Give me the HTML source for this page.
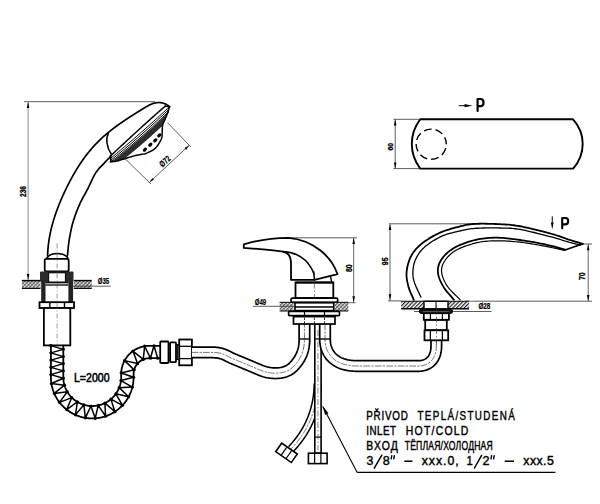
<!DOCTYPE html><html><head><meta charset="utf-8"><style>html,body{margin:0;padding:0;background:#fff;width:600px;height:504px;overflow:hidden}svg{display:block}</style></head><body><svg width="600" height="504" viewBox="0 0 600 504">
<defs><pattern id="h" patternUnits="userSpaceOnUse" width="2.6" height="2.6" patternTransform="rotate(45)"><rect width="2.6" height="2.6" fill="#fff"/><line x1="0.6" y1="0" x2="0.6" y2="2.6" stroke="#333" stroke-width="0.9"/><line x1="0" y1="1.9" x2="2.6" y2="1.9" stroke="#555" stroke-width="0.7"/></pattern><pattern id="h2" patternUnits="userSpaceOnUse" width="2.7" height="2.7" patternTransform="rotate(45)"><rect width="2.7" height="2.7" fill="#fff"/><line x1="0.6" y1="0" x2="0.6" y2="2.7" stroke="#222" stroke-width="1.2"/></pattern></defs>
<rect width="600" height="504" fill="#fff"/>
<line x1="24" y1="101.7" x2="155" y2="101.7" stroke="#333" stroke-width="0.8" stroke-linecap="butt"/>
<line x1="28.1" y1="101.7" x2="28.1" y2="281" stroke="#888" stroke-width="1.0" stroke-linecap="butt"/>
<path d="M28.1,101.9 L29.4,107.9 L26.8,107.9Z" fill="#000"/>
<path d="M28.1,280 L26.8,274 L29.4,274Z" fill="#000"/>
<text transform="translate(26,191.5) rotate(-90)" font-family="Liberation Sans" font-size="8.2" font-weight="bold" text-anchor="middle" fill="#000" stroke="#000" stroke-width="0.3" textLength="11" lengthAdjust="spacingAndGlyphs">236</text>
<path d="M47.62,255.98 L47.64,255.27 L47.66,254.56 L47.68,253.85 L47.71,253.14 L47.75,252.43 L47.78,251.72 L47.83,251.01 L47.87,250.3 L47.92,249.59 L47.98,248.89 L48.04,248.18 L48.1,247.48 L48.17,246.77 L48.24,246.07 L48.32,245.36 L48.4,244.66 L48.48,243.95 L48.57,243.25 L48.66,242.55 L48.76,241.85 L48.86,241.14 L48.96,240.44 L49.07,239.74 L49.18,239.04 L49.29,238.34 L49.41,237.64 L49.54,236.95 L49.66,236.25 L49.79,235.55 L49.93,234.85 L50.06,234.16 L50.2,233.46 L50.35,232.77 L50.5,232.07 L50.65,231.38 L50.8,230.69 L50.96,230 L51.12,229.3 L51.29,228.61 L51.46,227.92 L51.63,227.23 L51.8,226.54 L51.98,225.85 L52.16,225.17 L52.35,224.48 L52.53,223.79 L52.73,223.11 L52.92,222.42 L53.12,221.74 L53.32,221.05 L53.52,220.37 L53.73,219.69 L53.93,219.01 L54.15,218.33 L54.36,217.65 L54.58,216.97 L54.8,216.29 L55.02,215.61 L55.25,214.93 L55.48,214.26 L55.71,213.58 L55.94,212.91 L56.18,212.23 L56.42,211.56 L56.66,210.89 L56.9,210.21 L57.15,209.54 L57.4,208.87 L57.65,208.2 L57.91,207.53 L58.16,206.87 L58.42,206.2 L58.68,205.53 L58.95,204.87 L59.21,204.2 L59.48,203.54 L59.75,202.88 L60.02,202.22 L60.3,201.56 L60.57,200.9 L60.85,200.24 L61.13,199.58 L61.42,198.92 L61.7,198.26 L61.99,197.61 L62.28,196.95 L62.57,196.3 L62.86,195.65 L63.16,195 L63.45,194.35 L63.75,193.7 L64.05,193.05 L64.35,192.4 L64.65,191.75 L64.96,191.11 L65.27,190.46 L65.57,189.82 L65.88,189.17 L66.19,188.53 L66.51,187.89 L66.82,187.25 L67.14,186.61 L67.45,185.97 L67.77,185.34 L68.09,184.7 L68.42,184.07 L68.74,183.43 L69.07,182.8 L69.39,182.17 L69.72,181.54 L70.05,180.91 L70.39,180.29 L70.72,179.66 L71.06,179.03 L71.39,178.41 L71.73,177.79 L72.08,177.17 L72.42,176.55 L72.77,175.93 L73.11,175.31 L73.46,174.7 L73.81,174.08 L74.17,173.47 L74.52,172.86 L74.88,172.25 L75.24,171.64 L75.6,171.04 L75.97,170.43 L76.33,169.83 L76.7,169.23 L77.07,168.63 L77.44,168.03 L77.82,167.43 L78.19,166.83 L78.57,166.24 L78.95,165.65 L79.34,165.06 L79.72,164.47 L80.11,163.88 L80.5,163.3 L80.89,162.71 L81.29,162.13 L81.68,161.55 L82.08,160.97 L82.48,160.4 L82.89,159.82 L83.3,159.25 L83.7,158.68 L84.12,158.11 L84.53,157.55 L84.95,156.98 L85.37,156.42 L85.79,155.86 L86.21,155.3 L86.64,154.74 L87.07,154.19 L87.5,153.64 L87.94,153.08 L88.37,152.54 L88.81,151.99 L89.26,151.45 L89.7,150.9 L90.15,150.36 L90.6,149.83 L91.05,149.29 L91.51,148.76 L91.97,148.23 L92.43,147.7 L92.9,147.17 L93.37,146.65 L93.84,146.13 L94.31,145.61 L94.79,145.09 L95.27,144.58 L95.75,144.06 L96.24,143.56 L96.72,143.05 L97.22,142.54 L97.71,142.04 L98.21,141.54 L98.71,141.04 L99.21,140.55 L99.72,140.06 L100.23,139.57 L100.74,139.08 L101.26,138.6 L101.78,138.11 L102.3,137.63 L102.83,137.16 L103.36,136.68 L103.89,136.21 L104.42,135.74 L104.96,135.27 L105.5,134.81 L106.04,134.34 L106.58,133.88 L107.13,133.42 L107.68,132.97 L108.23,132.51 L108.78,132.06 L109.34,131.61 L109.9,131.16 L110.46,130.72 L111.02,130.27 L111.59,129.83 L112.15,129.39 L112.72,128.95 L113.29,128.52 L113.87,128.08 L114.44,127.65 L115.02,127.22 L115.6,126.79 L116.18,126.36 L116.76,125.94 L117.34,125.51 L117.93,125.09 L118.51,124.67 L119.1,124.25 L119.69,123.84 L120.28,123.42 L120.87,123.01 L121.47,122.6 L122.06,122.19 L122.66,121.78 L123.25,121.37 L123.85,120.96 L124.45,120.56 L125.05,120.16 L125.65,119.75 L126.25,119.35 L126.86,118.95 L127.46,118.55 L128.06,118.16 L128.67,117.76 L129.27,117.37 L129.88,116.97 L130.49,116.58 L131.09,116.19 L131.7,115.8 L132.31,115.41 L132.92,115.02 L133.53,114.64 L134.14,114.25 L134.75,113.87 L135.35,113.48 L135.96,113.1 L136.57,112.71 L137.18,112.33 L137.79,111.95 L138.4,111.57 L139.01,111.19 L139.62,110.81 L140.23,110.44 L140.84,110.06 L141.44,109.68 L142.05,109.31 L142.66,108.93 L143.27,108.56 L143.87,108.18 L144.48,107.81 L145.09,107.45 L145.69,107.09 L146.3,106.73 L146.91,106.39 L147.52,106.05 L148.12,105.72 L148.73,105.4 L149.35,105.09 L149.96,104.8 L150.57,104.51 L151.19,104.24 L151.8,103.99 L152.42,103.75 L153.05,103.53 L153.67,103.33 L154.29,103.15 L154.92,102.99 L155.55,102.85 L156.19,102.73 L156.82,102.64 L157.46,102.57 L158.11,102.53 L158.75,102.51 L159.4,102.52 L160.06,102.56 L160.71,102.63 L161.38,102.73 L162.04,102.86 L162.71,103.02 L163.39,103.22 L164.07,103.45 L164.75,103.72 L165.44,104.03 L166.13,104.37 L166.83,104.75 L167.54,105.17 L168.25,105.64 L168.96,106.14 L169.69,106.69" fill="none" stroke="#000" stroke-width="1.7" stroke-linecap="round" stroke-linejoin="round"/>
<path d="M67.4,256 L67.56,254.55 L67.7,253.12 L67.84,251.69 L67.97,250.26 L68.11,248.83 L68.25,247.39 L68.4,245.95 L68.56,244.49 L68.75,243.02 L68.96,241.52 L69.2,240 L69.46,238.45 L69.73,236.87 L70.02,235.28 L70.32,233.66 L70.63,232.04 L70.97,230.4 L71.33,228.76 L71.71,227.11 L72.11,225.47 L72.54,223.83 L73,222.2 L73.49,220.56 L74.01,218.91 L74.57,217.24 L75.14,215.57 L75.74,213.9 L76.36,212.23 L76.99,210.59 L77.64,208.96 L78.29,207.37 L78.94,205.81 L79.6,204.3 L80.26,202.84 L80.94,201.44 L81.63,200.09 L82.33,198.77 L83.04,197.46 L83.75,196.17 L84.48,194.88 L85.2,193.58 L85.94,192.26 L86.67,190.9 L87.4,189.5 L88.14,188.03 L88.88,186.5 L89.63,184.91 L90.38,183.3 L91.14,181.68 L91.9,180.07 L92.66,178.5 L93.42,176.97 L94.18,175.52 L94.94,174.15 L95.7,172.9 L96.46,171.75 L97.23,170.69 L98.01,169.7 L98.79,168.78 L99.56,167.91 L100.34,167.08 L101.1,166.29 L101.85,165.53 L102.59,164.78 L103.31,164.04 L104,163.3 L104.67,162.58 L105.32,161.89 L105.94,161.24 L106.55,160.62 L107.15,160.02 L107.74,159.43 L108.33,158.85 L108.92,158.28 L109.5,157.7 L110.1,157.11 L110.7,156.5" fill="none" stroke="#000" stroke-width="1.7" stroke-linecap="round" stroke-linejoin="round"/>
<path d="M108.3,133.6 C105.8,138 106.2,147 111.4,154.2" fill="none" stroke="#000" stroke-width="1.5" stroke-linecap="round" stroke-linejoin="round"/>
<clipPath id="fc"><path d="M167.9,112.3 L167.48,113.34 L167.05,114.41 L166.63,115.48 L166.2,116.54 L165.78,117.57 L165.38,118.57 L165,119.5 L164.62,120.36 L164.25,121.14 L163.88,121.88 L163.53,122.6 L163.21,123.32 L162.93,124.08 L162.7,124.9 L162.53,125.78 L162.43,126.71 L162.36,127.66 L162.32,128.63 L162.29,129.6 L162.26,130.56 L162.2,131.5 L162.15,132.42 L162.13,133.32 L162.12,134.23 L162.1,135.12 L162.03,136.02 L161.91,136.91 L161.7,137.8 L161.4,138.7 L161.02,139.62 L160.59,140.54 L160.11,141.45 L159.61,142.34 L159.1,143.19 L158.6,144 L158.1,144.77 L157.59,145.5 L157.07,146.21 L156.54,146.89 L155.98,147.53 L155.4,148.14 L154.8,148.7 L154.17,149.22 L153.51,149.68 L152.83,150.11 L152.13,150.51 L151.42,150.88 L150.71,151.24 L150,151.6 L149.31,151.95 L148.65,152.28 L147.99,152.59 L147.3,152.88 L146.58,153.17 L145.78,153.44 L144.9,153.7 L143.93,153.93 L142.88,154.13 L141.77,154.32 L140.61,154.5 L139.41,154.69 L138.17,154.92 L136.9,155.2 L135.59,155.53 L134.21,155.9 L132.8,156.3 L131.35,156.72 L129.89,157.15 L128.44,157.58 L127,158 L125.55,158.44 L124.05,158.91 L122.55,159.39 L121.06,159.86 L119.62,160.3 L118.26,160.69 L117,161 L115.87,161.23 L114.85,161.39 L113.9,161.5 L113,161.57 L112.12,161.64 L111.23,161.7 L110.3,161.8 L108.35,162.78 L170.65,108.02Z"/></clipPath>
<path d="M167.9,112.3 L167.48,113.34 L167.05,114.41 L166.63,115.48 L166.2,116.54 L165.78,117.57 L165.38,118.57 L165,119.5 L164.62,120.36 L164.25,121.14 L163.88,121.88 L163.53,122.6 L163.21,123.32 L162.93,124.08 L162.7,124.9 L162.53,125.78 L162.43,126.71 L162.36,127.66 L162.32,128.63 L162.29,129.6 L162.26,130.56 L162.2,131.5 L162.15,132.42 L162.13,133.32 L162.12,134.23 L162.1,135.12 L162.03,136.02 L161.91,136.91 L161.7,137.8 L161.4,138.7 L161.02,139.62 L160.59,140.54 L160.11,141.45 L159.61,142.34 L159.1,143.19 L158.6,144 L158.1,144.77 L157.59,145.5 L157.07,146.21 L156.54,146.89 L155.98,147.53 L155.4,148.14 L154.8,148.7 L154.17,149.22 L153.51,149.68 L152.83,150.11 L152.13,150.51 L151.42,150.88 L150.71,151.24 L150,151.6 L149.31,151.95 L148.65,152.28 L147.99,152.59 L147.3,152.88 L146.58,153.17 L145.78,153.44 L144.9,153.7 L143.93,153.93 L142.88,154.13 L141.77,154.32 L140.61,154.5 L139.41,154.69 L138.17,154.92 L136.9,155.2 L135.59,155.53 L134.21,155.9 L132.8,156.3 L131.35,156.72 L129.89,157.15 L128.44,157.58 L127,158 L125.55,158.44 L124.05,158.91 L122.55,159.39 L121.06,159.86 L119.62,160.3 L118.26,160.69 L117,161 L115.87,161.23 L114.85,161.39 L113.9,161.5 L113,161.57 L112.12,161.64 L111.23,161.7 L110.3,161.8 L108.35,162.78 L170.65,108.02Z" fill="#fff" stroke="#000" stroke-width="0" stroke-linecap="round" stroke-linejoin="round"/>
<g clip-path="url(#fc)">
<path d="M111.41,162.1 L112.2,161.48 L112.99,160.86 L113.79,160.25 L114.58,159.63 L115.37,159.01 L116.16,158.39 L116.95,157.76 L117.74,157.14 L118.52,156.52 L119.31,155.89 L120.1,155.26 L120.88,154.63 L121.66,154 L122.45,153.37 L123.23,152.74 L124.01,152.11 L124.79,151.47 L125.56,150.84 L126.34,150.2 L127.12,149.56 L127.89,148.92 L128.67,148.28 L129.44,147.64 L130.21,146.99 L130.98,146.35 L131.75,145.7 L132.52,145.06 L133.29,144.41 L134.06,143.76 L134.82,143.11 L135.59,142.46 L136.35,141.8 L137.12,141.15 L137.88,140.5 L138.64,139.84 L139.4,139.18 L140.16,138.52 L140.92,137.86 L141.67,137.2 L142.43,136.54 L143.19,135.88 L143.94,135.21 L144.69,134.55 L145.44,133.88 L146.19,133.21 L146.94,132.54 L147.69,131.87 L148.44,131.2 L149.19,130.53 L149.93,129.86 L150.68,129.18 L151.42,128.5 L152.17,127.83 L152.91,127.15 L153.65,126.47 L154.39,125.79 L155.13,125.11 L155.86,124.43 L156.6,123.74 L157.34,123.06 L158.07,122.37 L158.81,121.69 L159.54,121 L160.27,120.31 L161,119.62 L161.73,118.93 L162.46,118.24 L163.18,117.54 L163.91,116.85 L164.64,116.15 L165.36,115.45 L166.08,114.76 L166.81,114.06 L167.53,113.36 L168.25,112.66 L172.08,116.61 L171.36,117.3 L170.63,118.01 L169.9,118.71 L169.18,119.42 L168.45,120.12 L167.71,120.82 L166.98,121.52 L166.25,122.22 L165.51,122.92 L164.78,123.61 L164.04,124.31 L163.31,125 L162.57,125.7 L161.83,126.39 L161.09,127.08 L160.34,127.77 L159.6,128.46 L158.86,129.15 L158.11,129.84 L157.37,130.52 L156.62,131.21 L155.87,131.89 L155.13,132.57 L154.37,133.26 L153.62,133.93 L152.87,134.61 L152.12,135.29 L151.37,135.97 L150.61,136.65 L149.85,137.32 L149.1,137.99 L148.34,138.67 L147.58,139.33 L146.82,140.01 L146.06,140.68 L145.3,141.34 L144.53,142.01 L143.77,142.67 L143,143.34 L142.23,144 L141.47,144.66 L140.7,145.33 L139.93,145.98 L139.16,146.64 L138.39,147.3 L137.62,147.95 L136.84,148.61 L136.07,149.26 L135.29,149.92 L134.51,150.57 L133.74,151.22 L132.96,151.87 L132.18,152.51 L131.4,153.16 L130.61,153.81 L129.83,154.45 L129.05,155.09 L128.26,155.73 L127.48,156.37 L126.69,157.01 L125.9,157.65 L125.11,158.29 L124.32,158.92 L123.53,159.55 L122.74,160.19 L121.95,160.82 L121.15,161.45 L120.36,162.08 L119.56,162.71 L118.77,163.34 L117.97,163.96 L117.17,164.58 L116.37,165.21 L115.57,165.83 L114.78,166.44Z" fill="#2e2e2e" stroke="#000" stroke-width="0" stroke-linecap="round" stroke-linejoin="round"/>
</g>
<path d="M167.9,112.3 L167.48,113.34 L167.05,114.41 L166.63,115.48 L166.2,116.54 L165.78,117.57 L165.38,118.57 L165,119.5 L164.62,120.36 L164.25,121.14 L163.88,121.88 L163.53,122.6 L163.21,123.32 L162.93,124.08 L162.7,124.9 L162.53,125.78 L162.43,126.71 L162.36,127.66 L162.32,128.63 L162.29,129.6 L162.26,130.56 L162.2,131.5 L162.15,132.42 L162.13,133.32 L162.12,134.23 L162.1,135.12 L162.03,136.02 L161.91,136.91 L161.7,137.8 L161.4,138.7 L161.02,139.62 L160.59,140.54 L160.11,141.45 L159.61,142.34 L159.1,143.19 L158.6,144 L158.1,144.77 L157.59,145.5 L157.07,146.21 L156.54,146.89 L155.98,147.53 L155.4,148.14 L154.8,148.7 L154.17,149.22 L153.51,149.68 L152.83,150.11 L152.13,150.51 L151.42,150.88 L150.71,151.24 L150,151.6 L149.31,151.95 L148.65,152.28 L147.99,152.59 L147.3,152.88 L146.58,153.17 L145.78,153.44 L144.9,153.7 L143.93,153.93 L142.88,154.13 L141.77,154.32 L140.61,154.5 L139.41,154.69 L138.17,154.92 L136.9,155.2 L135.59,155.53 L134.21,155.9 L132.8,156.3 L131.35,156.72 L129.89,157.15 L128.44,157.58 L127,158 L125.55,158.44 L124.05,158.91 L122.55,159.39 L121.06,159.86 L119.62,160.3 L118.26,160.69 L117,161 L115.87,161.23 L114.85,161.39 L113.9,161.5 L113,161.57 L112.12,161.64 L111.23,161.7 L110.3,161.8" fill="none" stroke="#000" stroke-width="1.5" stroke-linecap="round" stroke-linejoin="round"/>
<ellipse cx="144.9" cy="149.7" rx="2.4" ry="1.7" transform="rotate(-42 144.9 149.7)" fill="#000"/>
<ellipse cx="150.3" cy="144.7" rx="2.4" ry="1.7" transform="rotate(-42 150.3 144.7)" fill="#000"/>
<ellipse cx="155.3" cy="140.3" rx="2.4" ry="1.7" transform="rotate(-42 155.3 140.3)" fill="#000"/>
<ellipse cx="159.3" cy="135.3" rx="2.4" ry="1.7" transform="rotate(-42 159.3 135.3)" fill="#000"/>
<path d="M110.4,156.1 L112.58,154.04 L114.74,152.01 L116.88,150 L119,148.01 L121.09,146.05 L123.17,144.11 L125.23,142.2 L127.26,140.31 L129.28,138.44 L131.27,136.6 L133.25,134.78 L135.2,132.98 L137.14,131.21 L139.05,129.47 L140.94,127.74 L142.82,126.04 L144.67,124.36 L146.5,122.71 L148.31,121.08 L150.1,119.48 L151.87,117.9 L153.62,116.34 L155.35,114.8 L157.06,113.29 L158.75,111.81 L160.42,110.34 L162.07,108.91 L163.69,107.49 L165.3,106.1" fill="none" stroke="#000" stroke-width="1.5" stroke-linecap="round" stroke-linejoin="round"/>
<path d="M110.7,158.3 L112.72,156.64 L114.74,154.97 L116.75,153.29 L118.77,151.6 L120.79,149.91 L122.81,148.2 L124.83,146.49 L126.85,144.77 L128.87,143.04 L130.9,141.31 L132.92,139.57 L134.94,137.81 L136.96,136.05 L138.99,134.29 L141.01,132.51 L143.04,130.73 L145.06,128.94 L147.09,127.13 L149.11,125.33 L151.14,123.51 L153.17,121.69 L155.19,119.85 L157.22,118.01 L159.25,116.16 L161.28,114.31 L163.31,112.44 L165.34,110.57 L167.37,108.69 L169.4,106.8" fill="none" stroke="#000" stroke-width="1.0" stroke-linecap="round" stroke-linejoin="round"/>
<path d="M110.9,160.2 L112.92,158.58 L114.94,156.94 L116.96,155.3 L118.98,153.65 L120.99,151.99 L123,150.32 L125.01,148.65 L127.02,146.96 L129.02,145.27 L131.02,143.57 L133.02,141.85 L135.02,140.14 L137.01,138.41 L139,136.67 L140.99,134.93 L142.98,133.17 L144.97,131.41 L146.95,129.64 L148.93,127.86 L150.91,126.07 L152.88,124.28 L154.86,122.47 L156.83,120.66 L158.79,118.84 L160.76,117.01 L162.72,115.17 L164.68,113.32 L166.64,111.46 L168.6,109.6" fill="none" stroke="#000" stroke-width="1.0" stroke-linecap="round" stroke-linejoin="round"/>
<path d="M111.1,161.7 L113.13,160.13 L115.15,158.55 L117.16,156.96 L119.17,155.36 L121.18,153.75 L123.18,152.14 L125.18,150.51 L127.17,148.87 L129.16,147.23 L131.14,145.57 L133.12,143.9 L135.09,142.23 L137.06,140.54 L139.02,138.85 L140.98,137.15 L142.93,135.43 L144.88,133.71 L146.83,131.98 L148.77,130.24 L150.7,128.49 L152.63,126.73 L154.56,124.96 L156.48,123.18 L158.39,121.39 L160.3,119.59 L162.21,117.78 L164.11,115.96 L166.01,114.14 L167.9,112.3" fill="none" stroke="#000" stroke-width="1.0" stroke-linecap="round" stroke-linejoin="round"/>
<path d="M110.4,156.1 L111.1,161.7" fill="none" stroke="#000" stroke-width="1.6" stroke-linecap="round" stroke-linejoin="round"/>
<path d="M165.3,106.1 L169.4,106.8" fill="none" stroke="#000" stroke-width="1.4" stroke-linecap="round" stroke-linejoin="round"/>
<path d="M169.4,106.8 L167.9,112.3" fill="none" stroke="#000" stroke-width="1.6" stroke-linecap="round" stroke-linejoin="round"/>
<line x1="167.5" y1="122.7" x2="191" y2="147" stroke="#333" stroke-width="0.8" stroke-linecap="butt"/>
<line x1="123.8" y1="157.5" x2="151" y2="184" stroke="#333" stroke-width="0.8" stroke-linecap="butt"/>
<line x1="189" y1="145.5" x2="149.5" y2="182.3" stroke="#333" stroke-width="0.8" stroke-linecap="butt"/>
<path d="M189,145.5 L186.16,149.79 L184.52,148.03Z" fill="#000"/>
<path d="M149.5,182.3 L152.34,178.01 L153.98,179.77Z" fill="#000"/>
<text transform="translate(167,163.5) rotate(-43)" font-family="Liberation Sans" font-size="8.6" font-weight="bold" text-anchor="middle" fill="#000" stroke="#000" stroke-width="0.2" textLength="12" lengthAdjust="spacingAndGlyphs">Ø72</text>
<path d="M46.9,258 C49,255 53,253.5 57.3,253.5 C61.5,253.5 65.5,255 67.9,258" fill="none" stroke="#000" stroke-width="1.6" stroke-linecap="round" stroke-linejoin="round"/>
<rect x="44.7" y="258.8" width="24" height="12.6" rx="1.6" fill="#fff" stroke="#000" stroke-width="1.8"/>
<rect x="40" y="271.4" width="33.5" height="10.6" rx="1.2" fill="#2a2a2a"/>
<rect x="48.7" y="272.8" width="16.7" height="9.2" fill="#fff" stroke="#000" stroke-width="1.0"/>
<rect x="21.9" y="280.6" width="18.6" height="7.8" fill="url(#h)" stroke="#000" stroke-width="0"/>
<line x1="21.9" y1="280.6" x2="40.5" y2="280.6" stroke="#000" stroke-width="1.5" stroke-linecap="butt"/>
<line x1="21.9" y1="288.4" x2="40.5" y2="288.4" stroke="#000" stroke-width="1.1" stroke-linecap="butt"/>
<rect x="73.8" y="280.6" width="17.9" height="7.8" fill="url(#h)" stroke="#000" stroke-width="0"/>
<line x1="73.8" y1="280.6" x2="91.7" y2="280.6" stroke="#000" stroke-width="1.5" stroke-linecap="butt"/>
<line x1="73.8" y1="288.4" x2="91.7" y2="288.4" stroke="#000" stroke-width="1.1" stroke-linecap="butt"/>
<rect x="41.2" y="282" width="31.9" height="20" fill="#fff" stroke="#000" stroke-width="0"/>
<rect x="41.2" y="282" width="4.3" height="20" fill="#222" stroke="#000" stroke-width="0"/>
<rect x="68.4" y="282" width="4.7" height="20" fill="#222" stroke="#000" stroke-width="0"/>
<line x1="45.5" y1="282.7" x2="68.4" y2="282.7" stroke="#000" stroke-width="1.3" stroke-linecap="butt"/>
<line x1="45.5" y1="285" x2="68.4" y2="285" stroke="#000" stroke-width="1.3" stroke-linecap="butt"/>
<rect x="39.5" y="302.2" width="34.5" height="5.8" fill="#fff" stroke="#000" stroke-width="1.8"/>
<line x1="49.8" y1="302.2" x2="49.8" y2="308" stroke="#000" stroke-width="1.4" stroke-linecap="butt"/>
<line x1="64.5" y1="302.2" x2="64.5" y2="308" stroke="#000" stroke-width="1.4" stroke-linecap="butt"/>
<rect x="43.9" y="308" width="26.4" height="37.4" fill="#fff" stroke="#000" stroke-width="1.8"/>
<line x1="72" y1="286.2" x2="110.7" y2="286.2" stroke="#333" stroke-width="0.8" stroke-linecap="butt"/>
<text transform="translate(103.5,284.3)" font-family="Liberation Sans" font-size="8.6" font-weight="bold" text-anchor="middle" fill="#000" stroke="#000" stroke-width="0.2" textLength="11.5" lengthAdjust="spacingAndGlyphs">Ø35</text>
<line x1="57.1" y1="243.5" x2="57.1" y2="345" stroke="#555" stroke-width="0.6" stroke-linecap="butt" stroke-dasharray="5,2,1,2"/>
<path d="M50.9,345.6 L50.9,345.85 L50.9,346.1 L50.9,346.35 L50.9,346.6 L50.9,346.85 L50.9,347.1 L50.9,347.35 L50.9,347.6 L50.9,347.85 L50.9,348.1 L50.9,348.35 L50.9,348.6 L50.9,348.85 L50.9,349.1 L50.9,349.35 L50.9,349.6 L50.9,349.85 L50.9,350.1 L50.9,350.35 L50.9,350.6 L50.9,350.85 L50.9,351.1 L50.9,351.35 L50.9,351.6 L50.9,351.85 L50.9,352.1 L50.9,352.35 L50.9,352.6 L50.9,352.85 L50.9,353.1 L50.9,353.35 L50.9,353.61 L50.9,353.86 L50.9,354.11 L50.9,354.36 L50.9,354.61 L50.9,354.86 L50.9,355.11 L50.9,355.36 L50.9,355.61 L50.9,355.86 L50.9,356.11 L50.9,356.36 L50.9,356.61 L50.9,356.86 L50.9,357.11 L50.9,357.36 L50.9,357.61 L50.9,357.86 L50.9,358.11 L50.9,358.36 L50.9,358.61 L50.9,358.86 L50.9,359.11 L50.9,359.36 L50.9,359.61 L50.9,359.86 L50.9,360.11 L50.9,360.36 L50.9,360.61 L50.9,360.86 L50.9,361.11 L50.9,361.36 L50.9,361.61 L50.9,361.86 L50.9,362.11 L50.9,362.36 L50.9,362.61 L50.9,362.86 L50.9,363.11 L50.9,363.36 L50.9,363.61 L50.9,363.86 L50.9,364.11 L50.9,364.36 L50.9,364.61 L50.9,364.86 L50.9,365.11 L50.9,365.36 L50.9,365.61 L50.9,365.86 L50.9,366.11 L50.9,366.36 L50.9,366.61 L50.9,366.86 L50.9,367.11 L50.9,367.36 L50.9,367.61 L50.9,367.86 L50.9,368.11 L50.9,368.36 L50.9,368.61 L50.9,368.86 L50.9,369.11 L50.9,369.36 L50.9,369.62 L50.9,369.87 L50.9,370.12 L50.9,370.37 L50.9,370.62 L50.9,370.87 L50.9,371.12 L50.9,371.37 L50.9,371.62 L50.9,371.87 L50.9,372.12 L50.9,372.37 L50.9,372.62 L50.9,372.87 L50.9,373.12 L50.9,373.37 L50.9,373.62 L50.9,373.87 L50.9,374.12 L50.9,374.37 L50.9,374.62 L50.9,374.87 L50.9,375.12 L50.9,375.37 L50.9,375.62 L50.9,375.87 L50.9,376.12 L50.9,376.37 L50.9,376.62 L50.9,376.88 L50.9,377.21 L50.91,377.53 L50.92,377.78 L50.92,378.04 L50.93,378.29 L50.94,378.54 L50.94,378.79 L50.95,379.13 L50.98,379.55 L51,379.86 L51.02,380.11 L51.04,380.36 L51.06,380.61 L51.08,380.86 L51.1,381.13 L51.14,381.54 L51.19,381.94 L51.22,382.18 L51.26,382.43 L51.29,382.68 L51.32,382.93 L51.36,383.18 L51.41,383.53 L51.47,383.94 L51.53,384.24 L51.58,384.49 L51.62,384.73 L51.67,384.98 L51.72,385.23 L51.77,385.5 L51.85,385.9 L51.94,386.28 L52,386.53 L52.06,386.77 L52.12,387.01 L52.18,387.25 L52.24,387.5 L52.32,387.85 L52.44,388.25 L52.52,388.54 L52.6,388.78 L52.67,389.02 L52.74,389.26 L52.81,389.5 L52.89,389.77 L53.02,390.16 L53.15,390.52 L53.23,390.76 L53.32,390.99 L53.4,391.23 L53.49,391.47 L53.57,391.7 L53.7,392.05 L53.85,392.43 L53.97,392.71 L54.07,392.94 L54.16,393.17 L54.26,393.4 L54.36,393.63 L54.47,393.89 L54.64,394.27 L54.8,394.61 L54.91,394.84 L55.02,395.06 L55.13,395.29 L55.24,395.51 L55.35,395.74 L55.51,396.07 L55.71,396.44 L55.85,396.69 L55.97,396.91 L56.09,397.13 L56.21,397.35 L56.33,397.57 L56.48,397.83 L56.68,398.19 L56.88,398.5 L57.01,398.71 L57.14,398.93 L57.28,399.14 L57.41,399.35 L57.54,399.56 L57.75,399.88 L57.98,400.23 L58.14,400.46 L58.29,400.67 L58.43,400.87 L58.57,401.07 L58.72,401.28 L58.89,401.53 L59.14,401.86 L59.36,402.15 L59.51,402.34 L59.67,402.54 L59.82,402.74 L59.98,402.94 L60.13,403.13 L60.37,403.44 L60.64,403.75 L60.83,403.96 L60.99,404.15 L61.15,404.34 L61.32,404.53 L61.48,404.71 L61.69,404.94 L61.97,405.25 L62.22,405.51 L62.39,405.69 L62.56,405.87 L62.74,406.05 L62.91,406.23 L63.09,406.41 L63.36,406.69 L63.67,406.97 L63.87,407.16 L64.05,407.33 L64.23,407.49 L64.42,407.66 L64.6,407.83 L64.83,408.05 L65.14,408.32 L65.41,408.55 L65.61,408.71 L65.8,408.87 L65.99,409.03 L66.18,409.19 L66.38,409.34 L66.68,409.6 L67.01,409.85 L67.23,410.01 L67.43,410.16 L67.63,410.31 L67.83,410.46 L68.03,410.6 L68.29,410.79 L68.63,411.03 L68.92,411.23 L69.12,411.36 L69.33,411.5 L69.54,411.64 L69.75,411.78 L69.96,411.92 L70.3,412.14 L70.65,412.35 L70.88,412.49 L71.09,412.61 L71.31,412.74 L71.52,412.87 L71.74,412.99 L72.02,413.16 L72.38,413.36 L72.68,413.52 L72.91,413.63 L73.13,413.75 L73.35,413.86 L73.57,413.98 L73.79,414.09 L74.16,414.28 L74.54,414.46 L74.77,414.56 L75,414.66 L75.22,414.77 L75.45,414.87 L75.68,414.97 L75.98,415.11 L76.36,415.27 L76.67,415.39 L76.91,415.49 L77.14,415.58 L77.37,415.67 L77.61,415.76 L77.84,415.85 L78.23,416 L78.62,416.13 L78.86,416.21 L79.09,416.29 L79.33,416.37 L79.57,416.45 L79.81,416.52 L80.13,416.63 L80.53,416.75 L80.84,416.84 L81.08,416.9 L81.32,416.97 L81.57,417.03 L81.81,417.1 L82.06,417.17 L82.46,417.27 L82.86,417.36 L83.1,417.41 L83.34,417.47 L83.59,417.52 L83.83,417.57 L84.08,417.63 L84.41,417.7 L84.82,417.77 L85.14,417.83 L85.39,417.86 L85.63,417.9 L85.88,417.94 L86.13,417.98 L86.39,418.03 L86.8,418.09 L87.2,418.13 L87.45,418.16 L87.69,418.19 L87.94,418.21 L88.19,418.24 L88.44,418.27 L88.79,418.3 L89.2,418.33 L89.52,418.35 L89.77,418.36 L90.02,418.38 L90.27,418.39 L90.52,418.4 L90.79,418.42 L91.2,418.44 L91.6,418.44 L91.85,418.44 L92.1,418.44 L92.35,418.44 L92.6,418.44 L92.85,418.44 L93.21,418.44 L93.62,418.42 L93.93,418.41 L94.18,418.39 L94.43,418.38 L94.68,418.37 L94.93,418.35 L95.2,418.34 L95.62,418.31 L96,418.27 L96.25,418.25 L96.5,418.22 L96.75,418.19 L97,418.17 L97.25,418.14 L97.61,418.1 L98.02,418.04 L98.32,417.99 L98.57,417.95 L98.81,417.91 L99.06,417.87 L99.31,417.83 L99.59,417.79 L100,417.72 L100.37,417.64 L100.61,417.58 L100.86,417.53 L101.1,417.48 L101.35,417.43 L101.59,417.37 L101.95,417.29 L102.35,417.19 L102.64,417.11 L102.88,417.05 L103.12,416.98 L103.36,416.92 L103.61,416.85 L103.89,416.77 L104.28,416.66 L104.64,416.54 L104.88,416.46 L105.12,416.38 L105.35,416.31 L105.59,416.23 L105.83,416.15 L106.18,416.03 L106.57,415.88 L106.84,415.78 L107.08,415.69 L107.31,415.6 L107.54,415.51 L107.77,415.41 L108.05,415.31 L108.44,415.15 L108.77,415 L109,414.89 L109.23,414.79 L109.45,414.69 L109.68,414.58 L109.91,414.48 L110.26,414.32 L110.63,414.14 L110.88,414 L111.1,413.89 L111.32,413.77 L111.55,413.66 L111.77,413.54 L112.04,413.4 L112.4,413.2 L112.71,413.02 L112.93,412.89 L113.15,412.77 L113.36,412.64 L113.58,412.51 L113.79,412.39 L114.13,412.19 L114.47,411.96 L114.71,411.81 L114.91,411.67 L115.12,411.53 L115.33,411.4 L115.54,411.26 L115.8,411.09 L116.14,410.85 L116.42,410.64 L116.62,410.49 L116.83,410.34 L117.03,410.19 L117.23,410.04 L117.43,409.89 L117.74,409.65 L118.07,409.39 L118.27,409.22 L118.47,409.06 L118.66,408.9 L118.85,408.74 L119.04,408.58 L119.29,408.38 L119.6,408.11 L119.86,407.87 L120.04,407.7 L120.23,407.53 L120.41,407.36 L120.59,407.19 L120.78,407.02 L121.07,406.75 L121.36,406.45 L121.55,406.27 L121.72,406.09 L121.9,405.91 L122.07,405.73 L122.25,405.55 L122.47,405.32 L122.75,405.01 L122.98,404.76 L123.14,404.57 L123.31,404.38 L123.47,404.19 L123.64,404 L123.8,403.81 L124.07,403.51 L124.33,403.18 L124.49,402.98 L124.64,402.78 L124.8,402.59 L124.95,402.39 L125.11,402.19 L125.31,401.93 L125.56,401.6 L125.75,401.32 L125.89,401.12 L126.04,400.92 L126.18,400.71 L126.33,400.51 L126.47,400.3 L126.71,399.96 L126.93,399.61 L127.06,399.4 L127.19,399.19 L127.33,398.97 L127.46,398.76 L127.59,398.55 L127.77,398.27 L127.98,397.91 L128.14,397.62 L128.26,397.4 L128.38,397.18 L128.5,396.96 L128.63,396.74 L128.75,396.52 L128.95,396.16 L129.13,395.79 L129.24,395.56 L129.35,395.34 L129.46,395.11 L129.57,394.89 L129.68,394.66 L129.82,394.36 L129.99,393.98 L130.12,393.68 L130.22,393.45 L130.32,393.22 L130.41,392.99 L130.51,392.76 L130.61,392.52 L130.77,392.13 L130.91,391.75 L130.99,391.52 L131.08,391.28 L131.16,391.05 L131.25,390.81 L131.33,390.58 L131.45,390.25 L131.58,389.85 L131.67,389.55 L131.74,389.31 L131.82,389.07 L131.89,388.83 L131.96,388.59 L132.04,388.34 L132.15,387.94 L132.25,387.55 L132.31,387.31 L132.37,387.06 L132.43,386.82 L132.49,386.58 L132.55,386.34 L132.63,385.99 L132.72,385.59 L132.77,385.28 L132.82,385.03 L132.87,384.79 L132.91,384.54 L132.96,384.3 L133.01,384.03 L133.08,383.62 L133.14,383.23 L133.17,382.98 L133.2,382.73 L133.24,382.49 L133.27,382.24 L133.3,381.99 L133.35,381.63 L133.39,381.22 L133.41,380.92 L133.43,380.67 L133.45,380.42 L133.47,380.17 L133.49,379.92 L133.52,379.64 L133.54,379.23 L133.56,378.84 L133.56,378.59 L133.57,378.34 L133.58,378.09 L133.58,377.84 L133.59,377.59 L133.6,377.28 L133.6,376.95 L133.6,376.67 L133.6,376.42 L133.6,376.17 L133.6,375.92 L133.6,375.67 L133.6,375.42 L133.6,375.17 L133.6,374.92 L133.6,374.67 L133.6,374.42 L133.6,374.19 L133.6,374 L133.61,373.8 L133.61,373.55 L133.61,373.39 L133.62,373.27 L133.63,373.05 L133.65,372.83 L133.65,372.7 L133.67,372.55 L133.7,372.3 L133.71,372.14 L133.73,372.01 L133.76,371.8 L133.79,371.57 L133.81,371.45 L133.83,371.31 L133.88,371.06 L133.91,370.89 L133.94,370.77 L133.98,370.57 L134.03,370.33 L134.06,370.21 L134.1,370.08 L134.16,369.84 L134.21,369.66 L134.24,369.54 L134.3,369.36 L134.38,369.12 L134.41,369 L134.46,368.88 L134.54,368.65 L134.6,368.46 L134.65,368.35 L134.71,368.18 L134.81,367.95 L134.86,367.82 L134.91,367.71 L135.01,367.49 L135.09,367.3 L135.15,367.19 L135.22,367.04 L135.33,366.81 L135.4,366.68 L135.46,366.57 L135.57,366.37 L135.67,366.18 L135.73,366.07 L135.82,365.94 L135.95,365.72 L136.03,365.59 L136.1,365.48 L136.22,365.3 L136.34,365.11 L136.41,365.01 L136.5,364.89 L136.64,364.68 L136.74,364.55 L136.82,364.45 L136.95,364.28 L137.09,364.1 L137.17,364 L137.26,363.89 L137.42,363.7 L137.54,363.57 L137.62,363.47 L137.75,363.33 L137.92,363.15 L138.01,363.05 L138.1,362.97 L138.27,362.79 L138.41,362.65 L138.5,362.57 L138.63,362.44 L138.82,362.27 L138.92,362.18 L139.01,362.1 L139.2,361.94 L139.35,361.81 L139.45,361.73 L139.58,361.63 L139.78,361.47 L139.89,361.38 L139.99,361.31 L140.18,361.17 L140.35,361.05 L140.46,360.98 L140.59,360.89 L140.8,360.75 L140.93,360.66 L141.04,360.6 L141.23,360.48 L141.42,360.37 L141.52,360.3 L141.66,360.23 L141.88,360.11 L142.02,360.03 L142.13,359.97 L142.32,359.88 L142.53,359.78 L142.64,359.72 L142.77,359.66 L143,359.56 L143.16,359.49 L143.28,359.44 L143.46,359.36 L143.69,359.27 L143.8,359.22 L143.93,359.18 L144.16,359.1 L144.34,359.03 L144.46,359 L144.64,358.94 L144.88,358.86 L145,358.83 L145.12,358.79 L145.36,358.73 L145.55,358.68 L145.67,358.65 L145.85,358.61 L146.09,358.55 L146.23,358.52 L146.35,358.5 L146.58,358.46 L146.78,358.42 L146.91,358.4 L147.07,358.38 L147.32,358.34 L147.47,358.32 L147.6,358.31 L147.82,358.28 L148.04,358.26 L148.16,358.25 L148.32,358.24 L148.57,358.23 L148.73,358.22 L148.85,358.21 L149.07,358.21 L149.31,358.2 L149.5,358.2 L149.69,358.2 L149.94,358.2 L150.19,358.2 L150.44,358.2 L150.69,358.2 L150.94,358.2 L151.19,358.2 L151.44,358.2 L151.69,358.2 L151.95,358.2 L152.2,358.2 L152.45,358.2 L152.7,358.2 L152.95,358.2 L153.2,358.2 L153.45,358.2 L153.7,358.2 L153.95,358.2 L154.2,358.2 L154.45,358.2 L154.7,358.2 L154.95,358.2 L155.2,358.2 L155.45,358.2 L155.7,358.2 L155.95,358.2 L156.2,358.2 L156.45,358.2 L156.7,358.2 L156.95,358.2 L157.2,358.2 L157.45,358.2 L157.7,358.2 L157.95,358.2 L158.2,358.2 L158.45,358.2 L158.7,358.2 L158.95,358.2 L159.2,358.2 L159.45,358.2 L159.7,358.2" fill="none" stroke="#000" stroke-width="1.8" stroke-linecap="round" stroke-linejoin="round"/>
<path d="M63.3,345.6 L63.3,345.85 L63.3,346.1 L63.3,346.35 L63.3,346.6 L63.3,346.85 L63.3,347.1 L63.3,347.35 L63.3,347.6 L63.3,347.85 L63.3,348.1 L63.3,348.35 L63.3,348.6 L63.3,348.85 L63.3,349.1 L63.3,349.35 L63.3,349.6 L63.3,349.85 L63.3,350.1 L63.3,350.35 L63.3,350.6 L63.3,350.85 L63.3,351.1 L63.3,351.35 L63.3,351.6 L63.3,351.85 L63.3,352.1 L63.3,352.35 L63.3,352.6 L63.3,352.85 L63.3,353.1 L63.3,353.35 L63.3,353.61 L63.3,353.86 L63.3,354.11 L63.3,354.36 L63.3,354.61 L63.3,354.86 L63.3,355.11 L63.3,355.36 L63.3,355.61 L63.3,355.86 L63.3,356.11 L63.3,356.36 L63.3,356.61 L63.3,356.86 L63.3,357.11 L63.3,357.36 L63.3,357.61 L63.3,357.86 L63.3,358.11 L63.3,358.36 L63.3,358.61 L63.3,358.86 L63.3,359.11 L63.3,359.36 L63.3,359.61 L63.3,359.86 L63.3,360.11 L63.3,360.36 L63.3,360.61 L63.3,360.86 L63.3,361.11 L63.3,361.36 L63.3,361.61 L63.3,361.86 L63.3,362.11 L63.3,362.36 L63.3,362.61 L63.3,362.86 L63.3,363.11 L63.3,363.36 L63.3,363.61 L63.3,363.86 L63.3,364.11 L63.3,364.36 L63.3,364.61 L63.3,364.86 L63.3,365.11 L63.3,365.36 L63.3,365.61 L63.3,365.86 L63.3,366.11 L63.3,366.36 L63.3,366.61 L63.3,366.86 L63.3,367.11 L63.3,367.36 L63.3,367.61 L63.3,367.86 L63.3,368.11 L63.3,368.36 L63.3,368.61 L63.3,368.86 L63.3,369.11 L63.3,369.36 L63.3,369.62 L63.3,369.87 L63.3,370.12 L63.3,370.37 L63.3,370.62 L63.3,370.87 L63.3,371.12 L63.3,371.37 L63.3,371.62 L63.3,371.87 L63.3,372.12 L63.3,372.37 L63.3,372.62 L63.3,372.87 L63.3,373.12 L63.3,373.37 L63.3,373.62 L63.3,373.87 L63.3,374.12 L63.3,374.37 L63.3,374.62 L63.3,374.87 L63.3,375.12 L63.3,375.37 L63.3,375.62 L63.3,375.87 L63.3,376.12 L63.3,376.37 L63.3,376.62 L63.3,376.86 L63.3,377.03 L63.3,377.2 L63.31,377.45 L63.32,377.7 L63.32,377.95 L63.33,378.21 L63.34,378.46 L63.34,378.61 L63.35,378.69 L63.36,378.87 L63.38,379.12 L63.4,379.37 L63.42,379.62 L63.44,379.87 L63.46,380.1 L63.47,380.19 L63.48,380.29 L63.51,380.54 L63.55,380.79 L63.58,381.03 L63.61,381.28 L63.65,381.53 L63.67,381.67 L63.68,381.76 L63.72,381.94 L63.76,382.19 L63.81,382.44 L63.86,382.68 L63.9,382.93 L63.94,383.15 L63.96,383.23 L63.99,383.34 L64.05,383.58 L64.1,383.83 L64.16,384.07 L64.22,384.31 L64.28,384.55 L64.31,384.69 L64.34,384.77 L64.4,384.96 L64.47,385.2 L64.54,385.44 L64.61,385.68 L64.68,385.92 L64.75,386.13 L64.77,386.21 L64.81,386.32 L64.9,386.55 L64.98,386.79 L65.07,387.02 L65.15,387.26 L65.24,387.49 L65.28,387.62 L65.31,387.7 L65.39,387.88 L65.49,388.11 L65.59,388.35 L65.68,388.58 L65.78,388.81 L65.86,389 L65.9,389.08 L65.95,389.19 L66.06,389.42 L66.17,389.64 L66.28,389.86 L66.39,390.09 L66.5,390.31 L66.55,390.43 L66.59,390.5 L66.7,390.69 L66.82,390.9 L66.94,391.12 L67.06,391.34 L67.18,391.56 L67.28,391.74 L67.32,391.82 L67.39,391.92 L67.52,392.14 L67.66,392.35 L67.79,392.56 L67.92,392.77 L68.05,392.99 L68.12,393.09 L68.17,393.16 L68.29,393.33 L68.43,393.54 L68.58,393.74 L68.72,393.95 L68.86,394.15 L68.98,394.32 L69.03,394.38 L69.11,394.49 L69.27,394.69 L69.42,394.88 L69.58,395.08 L69.73,395.28 L69.89,395.47 L69.95,395.57 L70.01,395.63 L70.16,395.8 L70.32,395.98 L70.49,396.17 L70.65,396.36 L70.82,396.55 L70.94,396.69 L71,396.76 L71.1,396.86 L71.27,397.04 L71.45,397.22 L71.62,397.4 L71.8,397.58 L71.97,397.75 L72.05,397.83 L72.11,397.89 L72.28,398.04 L72.46,398.21 L72.64,398.38 L72.83,398.55 L73.01,398.72 L73.15,398.85 L73.21,398.91 L73.33,399 L73.52,399.16 L73.71,399.32 L73.9,399.48 L74.1,399.64 L74.29,399.8 L74.37,399.87 L74.44,399.91 L74.62,400.05 L74.82,400.2 L75.03,400.35 L75.23,400.5 L75.43,400.65 L75.57,400.76 L75.64,400.81 L75.77,400.89 L75.98,401.03 L76.19,401.17 L76.4,401.31 L76.6,401.45 L76.81,401.58 L76.89,401.64 L76.96,401.68 L77.17,401.8 L77.39,401.93 L77.6,402.06 L77.82,402.18 L78.03,402.31 L78.18,402.4 L78.26,402.44 L78.4,402.51 L78.62,402.63 L78.84,402.75 L79.07,402.86 L79.29,402.98 L79.51,403.09 L79.59,403.13 L79.67,403.17 L79.89,403.27 L80.12,403.37 L80.35,403.48 L80.57,403.58 L80.8,403.68 L80.96,403.75 L81.03,403.79 L81.19,403.85 L81.42,403.94 L81.66,404.03 L81.89,404.12 L82.12,404.21 L82.35,404.3 L82.43,404.33 L82.51,404.36 L82.75,404.44 L82.99,404.52 L83.23,404.59 L83.46,404.67 L83.7,404.75 L83.86,404.8 L83.94,404.83 L84.1,404.87 L84.35,404.94 L84.59,405 L84.83,405.07 L85.07,405.14 L85.3,405.2 L85.38,405.22 L85.48,405.24 L85.72,405.29 L85.97,405.35 L86.21,405.4 L86.45,405.45 L86.7,405.51 L86.85,405.54 L86.93,405.55 L87.11,405.58 L87.36,405.62 L87.61,405.66 L87.85,405.7 L88.1,405.74 L88.33,405.78 L88.42,405.79 L88.52,405.8 L88.76,405.83 L89.01,405.86 L89.26,405.88 L89.51,405.91 L89.76,405.94 L89.91,405.95 L89.99,405.96 L90.18,405.97 L90.43,405.98 L90.68,405.99 L90.93,406.01 L91.18,406.02 L91.41,406.03 L91.49,406.04 L91.6,406.04 L91.85,406.04 L92.1,406.04 L92.35,406.04 L92.6,406.04 L92.85,406.04 L92.99,406.04 L93.08,406.03 L93.27,406.02 L93.52,406.01 L93.77,406 L94.02,405.98 L94.27,405.97 L94.49,405.96 L94.57,405.96 L94.69,405.94 L94.93,405.92 L95.18,405.89 L95.43,405.86 L95.68,405.84 L95.93,405.81 L96.07,405.8 L96.15,405.78 L96.35,405.75 L96.59,405.71 L96.84,405.67 L97.09,405.63 L97.33,405.59 L97.55,405.56 L97.63,405.54 L97.75,405.52 L97.99,405.46 L98.24,405.41 L98.48,405.36 L98.73,405.31 L98.97,405.25 L99.1,405.23 L99.18,405.2 L99.38,405.15 L99.62,405.08 L99.86,405.02 L100.1,404.95 L100.34,404.89 L100.55,404.83 L100.63,404.81 L100.75,404.77 L100.98,404.69 L101.22,404.61 L101.46,404.53 L101.7,404.46 L101.93,404.38 L102.05,404.34 L102.13,404.31 L102.33,404.23 L102.56,404.14 L102.79,404.05 L103.03,403.96 L103.26,403.87 L103.45,403.79 L103.53,403.76 L103.65,403.71 L103.88,403.6 L104.1,403.5 L104.33,403.4 L104.56,403.29 L104.79,403.19 L104.89,403.14 L104.97,403.1 L105.16,403 L105.38,402.89 L105.61,402.77 L105.83,402.66 L106.05,402.54 L106.23,402.45 L106.3,402.41 L106.42,402.34 L106.63,402.21 L106.85,402.08 L107.07,401.96 L107.28,401.83 L107.5,401.7 L107.59,401.65 L107.66,401.6 L107.85,401.48 L108.06,401.34 L108.27,401.2 L108.48,401.06 L108.68,400.92 L108.84,400.82 L108.91,400.77 L109.03,400.68 L109.23,400.53 L109.43,400.39 L109.63,400.24 L109.83,400.09 L110.03,399.94 L110.12,399.88 L110.18,399.82 L110.36,399.67 L110.55,399.51 L110.75,399.36 L110.94,399.2 L111.13,399.04 L111.27,398.92 L111.34,398.86 L111.45,398.76 L111.63,398.59 L111.82,398.42 L112,398.25 L112.18,398.08 L112.37,397.91 L112.44,397.85 L112.5,397.78 L112.66,397.61 L112.84,397.44 L113.01,397.26 L113.19,397.08 L113.36,396.9 L113.49,396.77 L113.54,396.71 L113.65,396.59 L113.81,396.4 L113.98,396.21 L114.14,396.03 L114.31,395.84 L114.47,395.65 L114.53,395.58 L114.59,395.51 L114.73,395.32 L114.89,395.12 L115.04,394.93 L115.2,394.73 L115.35,394.53 L115.46,394.4 L115.51,394.33 L115.6,394.2 L115.75,393.99 L115.89,393.79 L116.03,393.58 L116.18,393.38 L116.32,393.17 L116.37,393.1 L116.42,393.03 L116.55,392.82 L116.68,392.61 L116.81,392.4 L116.95,392.18 L117.08,391.97 L117.17,391.83 L117.21,391.76 L117.29,391.61 L117.41,391.39 L117.54,391.17 L117.66,390.95 L117.78,390.73 L117.9,390.52 L117.94,390.45 L117.98,390.36 L118.09,390.14 L118.2,389.91 L118.31,389.69 L118.41,389.46 L118.52,389.24 L118.59,389.1 L118.63,389.02 L118.7,388.86 L118.79,388.63 L118.89,388.4 L118.99,388.17 L119.09,387.93 L119.18,387.71 L119.21,387.64 L119.24,387.55 L119.33,387.31 L119.41,387.08 L119.5,386.84 L119.58,386.6 L119.67,386.37 L119.72,386.23 L119.75,386.14 L119.8,385.97 L119.87,385.73 L119.94,385.49 L120.02,385.25 L120.09,385.01 L120.16,384.79 L120.18,384.71 L120.2,384.61 L120.26,384.37 L120.32,384.12 L120.38,383.88 L120.44,383.64 L120.5,383.39 L120.54,383.25 L120.55,383.17 L120.59,382.98 L120.63,382.74 L120.68,382.49 L120.73,382.24 L120.77,382 L120.82,381.78 L120.83,381.69 L120.85,381.58 L120.88,381.34 L120.91,381.09 L120.94,380.84 L120.98,380.59 L121.01,380.34 L121.03,380.21 L121.04,380.12 L121.05,379.93 L121.07,379.68 L121.09,379.43 L121.11,379.18 L121.13,378.93 L121.15,378.71 L121.16,378.63 L121.16,378.51 L121.17,378.26 L121.17,378.01 L121.18,377.76 L121.19,377.51 L121.19,377.26 L121.2,377.07 L121.2,376.9 L121.2,376.67 L121.2,376.42 L121.2,376.17 L121.2,375.92 L121.2,375.67 L121.2,375.42 L121.2,375.17 L121.2,374.92 L121.2,374.67 L121.2,374.42 L121.2,374.15 L121.2,373.84 L121.21,373.55 L121.21,373.3 L121.22,372.95 L121.24,372.58 L121.26,372.3 L121.27,372.02 L121.3,371.65 L121.33,371.3 L121.36,371.05 L121.39,370.72 L121.44,370.35 L121.48,370.06 L121.52,369.8 L121.57,369.42 L121.64,369.07 L121.68,368.83 L121.74,368.51 L121.82,368.14 L121.88,367.85 L121.94,367.6 L122.02,367.23 L122.12,366.88 L122.18,366.63 L122.27,366.33 L122.37,365.97 L122.46,365.67 L122.54,365.43 L122.65,365.08 L122.77,364.73 L122.86,364.49 L122.96,364.2 L123.09,363.85 L123.21,363.55 L123.31,363.32 L123.44,362.98 L123.59,362.64 L123.7,362.4 L123.82,362.13 L123.98,361.79 L124.13,361.5 L124.24,361.27 L124.4,360.96 L124.57,360.63 L124.71,360.39 L124.84,360.14 L125.03,359.82 L125.21,359.52 L125.33,359.31 L125.51,359.02 L125.71,358.7 L125.87,358.46 L126.02,358.24 L126.23,357.93 L126.44,357.64 L126.58,357.44 L126.78,357.17 L127,356.87 L127.18,356.64 L127.35,356.43 L127.58,356.14 L127.81,355.86 L127.98,355.67 L128.18,355.43 L128.43,355.15 L128.64,354.92 L128.81,354.74 L129.07,354.46 L129.33,354.2 L129.51,354.02 L129.72,353.8 L129.99,353.54 L130.23,353.33 L130.41,353.16 L130.68,352.91 L130.96,352.67 L131.16,352.5 L131.39,352.3 L131.68,352.07 L131.94,351.86 L132.13,351.71 L132.41,351.49 L132.72,351.27 L132.93,351.11 L133.17,350.94 L133.47,350.73 L133.76,350.54 L133.96,350.4 L134.25,350.21 L134.57,350.02 L134.81,349.87 L135.05,349.73 L135.37,349.54 L135.68,349.37 L135.89,349.25 L136.19,349.09 L136.52,348.92 L136.78,348.79 L137.02,348.67 L137.36,348.5 L137.68,348.35 L137.91,348.25 L138.21,348.12 L138.55,347.97 L138.83,347.86 L139.07,347.76 L139.42,347.63 L139.77,347.5 L140,347.42 L140.3,347.31 L140.65,347.19 L140.95,347.1 L141.19,347.03 L141.54,346.92 L141.9,346.82 L142.15,346.75 L142.44,346.67 L142.81,346.58 L143.12,346.51 L143.36,346.46 L143.72,346.38 L144.08,346.31 L144.35,346.26 L144.63,346.21 L145,346.15 L145.33,346.1 L145.58,346.06 L145.93,346.02 L146.3,345.97 L146.57,345.95 L146.85,345.92 L147.23,345.89 L147.57,345.86 L147.82,345.85 L148.16,345.83 L148.53,345.82 L148.82,345.81 L149.08,345.81 L149.39,345.8 L149.69,345.8 L149.94,345.8 L150.19,345.8 L150.44,345.8 L150.69,345.8 L150.94,345.8 L151.19,345.8 L151.44,345.8 L151.69,345.8 L151.95,345.8 L152.2,345.8 L152.45,345.8 L152.7,345.8 L152.95,345.8 L153.2,345.8 L153.45,345.8 L153.7,345.8 L153.95,345.8 L154.2,345.8 L154.45,345.8 L154.7,345.8 L154.95,345.8 L155.2,345.8 L155.45,345.8 L155.7,345.8 L155.95,345.8 L156.2,345.8 L156.45,345.8 L156.7,345.8 L156.95,345.8 L157.2,345.8 L157.45,345.8 L157.7,345.8 L157.95,345.8 L158.2,345.8 L158.45,345.8 L158.7,345.8 L158.95,345.8 L159.2,345.8 L159.45,345.8 L159.7,345.8" fill="none" stroke="#000" stroke-width="1.8" stroke-linecap="round" stroke-linejoin="round"/>
<circle cx="50.9" cy="345.6" r="1.6" fill="#000"/>
<circle cx="63.3" cy="349.35" r="1.6" fill="#000"/>
<circle cx="50.9" cy="352.85" r="1.6" fill="#000"/>
<circle cx="63.3" cy="356.61" r="1.6" fill="#000"/>
<circle cx="50.9" cy="360.11" r="1.6" fill="#000"/>
<circle cx="63.3" cy="363.61" r="1.6" fill="#000"/>
<circle cx="50.9" cy="367.36" r="1.6" fill="#000"/>
<circle cx="63.3" cy="370.87" r="1.6" fill="#000"/>
<circle cx="50.9" cy="374.62" r="1.6" fill="#000"/>
<circle cx="63.33" cy="378.21" r="1.6" fill="#000"/>
<circle cx="51.41" cy="383.53" r="1.6" fill="#000"/>
<circle cx="64.47" cy="385.2" r="1.6" fill="#000"/>
<circle cx="54.26" cy="393.4" r="1.6" fill="#000"/>
<circle cx="67.28" cy="391.74" r="1.6" fill="#000"/>
<circle cx="59.51" cy="402.34" r="1.6" fill="#000"/>
<circle cx="71.8" cy="397.58" r="1.6" fill="#000"/>
<circle cx="66.68" cy="409.6" r="1.6" fill="#000"/>
<circle cx="77.39" cy="401.93" r="1.6" fill="#000"/>
<circle cx="75.45" cy="414.87" r="1.6" fill="#000"/>
<circle cx="83.86" cy="404.8" r="1.6" fill="#000"/>
<circle cx="85.39" cy="417.86" r="1.6" fill="#000"/>
<circle cx="90.93" cy="406.01" r="1.6" fill="#000"/>
<circle cx="95.2" cy="418.34" r="1.6" fill="#000"/>
<circle cx="98.24" cy="405.41" r="1.6" fill="#000"/>
<circle cx="105.59" cy="416.23" r="1.6" fill="#000"/>
<circle cx="104.89" cy="403.14" r="1.6" fill="#000"/>
<circle cx="114.91" cy="411.67" r="1.6" fill="#000"/>
<circle cx="110.94" cy="399.2" r="1.6" fill="#000"/>
<circle cx="122.47" cy="405.32" r="1.6" fill="#000"/>
<circle cx="115.89" cy="393.79" r="1.6" fill="#000"/>
<circle cx="128.63" cy="396.74" r="1.6" fill="#000"/>
<circle cx="119.21" cy="387.64" r="1.6" fill="#000"/>
<circle cx="132.37" cy="387.06" r="1.6" fill="#000"/>
<circle cx="120.98" cy="380.59" r="1.6" fill="#000"/>
<circle cx="133.6" cy="377.28" r="1.6" fill="#000"/>
<circle cx="121.22" cy="372.95" r="1.6" fill="#000"/>
<circle cx="134.16" cy="369.84" r="1.6" fill="#000"/>
<circle cx="124.57" cy="360.63" r="1.6" fill="#000"/>
<circle cx="137.54" cy="363.57" r="1.6" fill="#000"/>
<circle cx="132.93" cy="351.11" r="1.6" fill="#000"/>
<circle cx="143.28" cy="359.44" r="1.6" fill="#000"/>
<circle cx="144.63" cy="346.21" r="1.6" fill="#000"/>
<circle cx="150.44" cy="358.2" r="1.6" fill="#000"/>
<circle cx="153.95" cy="345.8" r="1.6" fill="#000"/>
<circle cx="157.7" cy="358.2" r="1.6" fill="#000"/>
<path d="M50.9,345.6 L63.3,349.35 L50.9,352.85 L63.3,356.61 L50.9,360.11 L63.3,363.61 L50.9,367.36 L63.3,370.87 L50.9,374.62 L63.33,378.21 L51.41,383.53 L64.47,385.2 L54.26,393.4 L67.28,391.74 L59.51,402.34 L71.8,397.58 L66.68,409.6 L77.39,401.93 L75.45,414.87 L83.86,404.8 L85.39,417.86 L90.93,406.01 L95.2,418.34 L98.24,405.41 L105.59,416.23 L104.89,403.14 L114.91,411.67 L110.94,399.2 L122.47,405.32 L115.89,393.79 L128.63,396.74 L119.21,387.64 L132.37,387.06 L120.98,380.59 L133.6,377.28 L121.22,372.95 L134.16,369.84 L124.57,360.63 L137.54,363.57 L132.93,351.11 L143.28,359.44 L144.63,346.21 L150.44,358.2 L153.95,345.8 L157.7,358.2" fill="none" stroke="#000" stroke-width="1.5" stroke-linecap="round" stroke-linejoin="round"/>
<text transform="translate(91.75,381.5)" font-family="Liberation Sans" font-size="13" font-weight="normal" text-anchor="middle" fill="#000" stroke="#000" stroke-width="0.6" textLength="35.5" lengthAdjust="spacingAndGlyphs">L=2000</text>
<rect x="160.2" y="341.5" width="8.3" height="21.5" rx="1" fill="#fff" stroke="#000" stroke-width="1.8"/>
<line x1="168.5" y1="344.3" x2="170.1" y2="344.3" stroke="#000" stroke-width="1.3" stroke-linecap="butt"/>
<line x1="168.5" y1="360.3" x2="170.1" y2="360.3" stroke="#000" stroke-width="1.3" stroke-linecap="butt"/>
<rect x="170.1" y="342.3" width="5.9" height="19.9" rx="1" fill="#fff" stroke="#000" stroke-width="1.8"/>
<line x1="176" y1="344.7" x2="179.2" y2="344.7" stroke="#000" stroke-width="1.2" stroke-linecap="butt"/>
<line x1="176" y1="359.4" x2="179.2" y2="359.4" stroke="#000" stroke-width="1.2" stroke-linecap="butt"/>
<line x1="177.6" y1="344.7" x2="177.6" y2="359.4" stroke="#000" stroke-width="1.0" stroke-linecap="butt"/>
<rect x="179.2" y="339.5" width="12.7" height="25.8" fill="#fff" stroke="#000" stroke-width="1.8"/>
<line x1="179.2" y1="346.3" x2="191.9" y2="346.3" stroke="#000" stroke-width="1.3" stroke-linecap="butt"/>
<line x1="179.2" y1="358.6" x2="191.9" y2="358.6" stroke="#000" stroke-width="1.3" stroke-linecap="butt"/>
<path d="M314.2,383.93 L314.18,384.93 L314.16,385.9 L314.12,386.87 L314.08,387.84 L314.02,388.81 L313.96,389.78 L313.89,390.75 L313.8,391.72 L313.71,392.68 L313.61,393.65 L313.5,394.61 L313.38,395.57 L313.25,396.53 L313.11,397.49 L312.96,398.45 L312.8,399.4 L312.63,400.36 L312.45,401.31 L312.26,402.26 L312.06,403.2 L311.85,404.15 L311.63,405.09 L311.4,406.03 L311.15,406.97 L310.9,407.9 L310.64,408.83 L310.37,409.76 L310.09,410.68 L309.8,411.61 L309.5,412.52 L309.18,413.44 L308.86,414.35 L308.53,415.26 L308.19,416.16 L307.83,417.06 L307.48,417.96 L307.1,418.85 L306.72,419.74 L306.33,420.62 L305.92,421.5 L305.52,422.37 L305.09,423.24 L304.66,424.11 L304.22,424.97 L303.77,425.82 L303.31,426.67 L302.84,427.52 L302.37,428.36 L301.88,429.2 L301.38,430.03 L300.88,430.85 L300.37,431.67 L299.84,432.49 L299.31,433.3 L298.77,434.09 L298.22,434.9 L297.66,435.69 L297.1,436.47 L296.52,437.25 L295.94,438.03 L295.35,438.8 L294.75,439.56 L294.15,440.32 L293.53,441.07 L292.91,441.82 L292.28,442.55 L291.65,443.29 L291,444.02 L290.35,444.74 L289.69,445.45 L289.01,446.19 L293.99,450.81 L294.68,450.08 L295.38,449.32 L296.07,448.54 L296.76,447.77 L297.44,446.98 L298.11,446.2 L298.78,445.4 L299.43,444.59 L300.08,443.78 L300.72,442.97 L301.35,442.14 L301.98,441.31 L302.6,440.47 L303.2,439.63 L303.8,438.78 L304.39,437.92 L304.97,437.06 L305.54,436.19 L306.11,435.32 L306.66,434.43 L307.2,433.55 L307.74,432.65 L308.26,431.75 L308.77,430.85 L309.28,429.94 L309.78,429.02 L310.26,428.1 L310.74,427.17 L311.2,426.24 L311.65,425.3 L312.09,424.36 L312.53,423.41 L312.95,422.46 L313.36,421.5 L313.77,420.54 L314.15,419.57 L314.54,418.6 L314.9,417.63 L315.26,416.65 L315.61,415.67 L315.94,414.68 L316.27,413.69 L316.58,412.7 L316.89,411.7 L317.18,410.7 L317.46,409.7 L317.73,408.69 L317.99,407.69 L318.24,406.68 L318.47,405.67 L318.7,404.65 L318.92,403.63 L319.12,402.61 L319.31,401.58 L319.5,400.57 L319.67,399.54 L319.83,398.51 L319.98,397.48 L320.12,396.46 L320.25,395.42 L320.37,394.39 L320.48,393.36 L320.58,392.32 L320.67,391.29 L320.74,390.25 L320.81,389.22 L320.87,388.18 L320.91,387.15 L320.95,386.11 L320.98,385.08 L321,384.07Z" fill="#fff" stroke="#000" stroke-width="0" stroke-linecap="round" stroke-linejoin="round"/>
<path d="M314.2,383.93 L314.18,384.93 L314.16,385.9 L314.12,386.87 L314.08,387.84 L314.02,388.81 L313.96,389.78 L313.89,390.75 L313.8,391.72 L313.71,392.68 L313.61,393.65 L313.5,394.61 L313.38,395.57 L313.25,396.53 L313.11,397.49 L312.96,398.45 L312.8,399.4 L312.63,400.36 L312.45,401.31 L312.26,402.26 L312.06,403.2 L311.85,404.15 L311.63,405.09 L311.4,406.03 L311.15,406.97 L310.9,407.9 L310.64,408.83 L310.37,409.76 L310.09,410.68 L309.8,411.61 L309.5,412.52 L309.18,413.44 L308.86,414.35 L308.53,415.26 L308.19,416.16 L307.83,417.06 L307.48,417.96 L307.1,418.85 L306.72,419.74 L306.33,420.62 L305.92,421.5 L305.52,422.37 L305.09,423.24 L304.66,424.11 L304.22,424.97 L303.77,425.82 L303.31,426.67 L302.84,427.52 L302.37,428.36 L301.88,429.2 L301.38,430.03 L300.88,430.85 L300.37,431.67 L299.84,432.49 L299.31,433.3 L298.77,434.09 L298.22,434.9 L297.66,435.69 L297.1,436.47 L296.52,437.25 L295.94,438.03 L295.35,438.8 L294.75,439.56 L294.15,440.32 L293.53,441.07 L292.91,441.82 L292.28,442.55 L291.65,443.29 L291,444.02 L290.35,444.74 L289.69,445.45 L289.01,446.19" fill="none" stroke="#000" stroke-width="1.5" stroke-linecap="round" stroke-linejoin="round"/>
<path d="M321,384.07 L320.98,385.08 L320.95,386.11 L320.91,387.15 L320.87,388.18 L320.81,389.22 L320.74,390.25 L320.67,391.29 L320.58,392.32 L320.48,393.36 L320.37,394.39 L320.25,395.42 L320.12,396.46 L319.98,397.48 L319.83,398.51 L319.67,399.54 L319.5,400.57 L319.31,401.58 L319.12,402.61 L318.92,403.63 L318.7,404.65 L318.47,405.67 L318.24,406.68 L317.99,407.69 L317.73,408.69 L317.46,409.7 L317.18,410.7 L316.89,411.7 L316.58,412.7 L316.27,413.69 L315.94,414.68 L315.61,415.67 L315.26,416.65 L314.9,417.63 L314.54,418.6 L314.15,419.57 L313.77,420.54 L313.36,421.5 L312.95,422.46 L312.53,423.41 L312.09,424.36 L311.65,425.3 L311.2,426.24 L310.74,427.17 L310.26,428.1 L309.78,429.02 L309.28,429.94 L308.77,430.85 L308.26,431.75 L307.74,432.65 L307.2,433.55 L306.66,434.43 L306.11,435.32 L305.54,436.19 L304.97,437.06 L304.39,437.92 L303.8,438.78 L303.2,439.63 L302.6,440.47 L301.98,441.31 L301.35,442.14 L300.72,442.97 L300.08,443.78 L299.43,444.59 L298.78,445.4 L298.11,446.2 L297.44,446.98 L296.76,447.77 L296.07,448.54 L295.38,449.32 L294.68,450.08 L293.99,450.81" fill="none" stroke="#000" stroke-width="1.5" stroke-linecap="round" stroke-linejoin="round"/>
<path d="M317.6,384 L317.58,385 L317.55,386.01 L317.52,387.01 L317.47,388.01 L317.42,389.02 L317.35,390.02 L317.28,391.02 L317.19,392.02 L317.1,393.02 L316.99,394.02 L316.88,395.02 L316.75,396.01 L316.62,397.01 L316.47,398 L316.31,398.99 L316.15,399.98 L315.97,400.97 L315.79,401.96 L315.59,402.94 L315.38,403.93 L315.16,404.91 L314.93,405.88 L314.69,406.86 L314.44,407.83 L314.18,408.8 L313.91,409.77 L313.63,410.73 L313.34,411.69 L313.03,412.65 L312.72,413.6 L312.4,414.55 L312.06,415.5 L311.72,416.44 L311.36,417.38 L310.99,418.32 L310.62,419.25 L310.23,420.17 L309.84,421.1 L309.43,422.02 L309.01,422.93 L308.58,423.84 L308.14,424.74 L307.7,425.64 L307.24,426.53 L306.77,427.42 L306.29,428.31 L305.81,429.18 L305.31,430.06 L304.81,430.92 L304.29,431.79 L303.77,432.64 L303.24,433.49 L302.69,434.34 L302.14,435.18 L301.58,436.01 L301.01,436.84 L300.43,437.66 L299.85,438.47 L299.25,439.28 L298.65,440.09 L298.04,440.88 L297.42,441.67 L296.79,442.46 L296.15,443.23 L295.51,444.01 L294.86,444.77 L294.2,445.53 L293.54,446.28 L292.87,447.03 L292.18,447.76 L291.5,448.5" fill="none" stroke="#333" stroke-width="0.7" stroke-linecap="round" stroke-linejoin="round" stroke-dasharray="6,2,1.5,2"/>
<g transform="translate(286.5,452.8) rotate(35)">
<rect x="-9.5" y="-5.2" width="19" height="10.4" fill="#fff" stroke="#000" stroke-width="1.6"/>
<line x1="-3" y1="-5.2" x2="-3" y2="5.2" stroke="#000" stroke-width="1.2" stroke-linecap="butt"/>
<line x1="3" y1="-5.2" x2="3" y2="5.2" stroke="#000" stroke-width="1.2" stroke-linecap="butt"/>
</g>
<rect x="314.8" y="324" width="6.3" height="129.2" fill="#fff" stroke="#000" stroke-width="1.6"/>
<line x1="314.8" y1="339" x2="321.1" y2="339" stroke="#000" stroke-width="1.2" stroke-linecap="butt"/>
<line x1="314.8" y1="437.1" x2="321.1" y2="437.1" stroke="#000" stroke-width="1.2" stroke-linecap="butt"/>
<line x1="317.95" y1="330" x2="317.95" y2="450" stroke="#333" stroke-width="0.6" stroke-linecap="butt" stroke-dasharray="6,2,1.5,2"/>
<rect x="308.4" y="453.2" width="18.7" height="10.4" fill="#fff" stroke="#000" stroke-width="1.6"/>
<line x1="314.6" y1="453.2" x2="314.6" y2="463.6" stroke="#000" stroke-width="1.2" stroke-linecap="butt"/>
<line x1="320.9" y1="453.2" x2="320.9" y2="463.6" stroke="#000" stroke-width="1.2" stroke-linecap="butt"/>
<path d="M191.9,357.7 L192.9,357.7 L193.91,357.7 L194.91,357.7 L195.92,357.7 L196.92,357.7 L197.93,357.7 L198.93,357.7 L199.94,357.7 L200.94,357.7 L201.95,357.7 L202.95,357.7 L203.96,357.7 L204.96,357.7 L205.97,357.7 L206.97,357.7 L207.98,357.7 L208.98,357.7 L209.99,357.7 L210.99,357.7 L211.97,357.7 L212.89,357.71 L213.78,357.74 L214.65,357.78 L215.51,357.85 L216.36,357.94 L217.18,358.06 L217.99,358.2 L218.79,358.37 L219.58,358.56 L220.35,358.79 L221.12,359.04 L221.89,359.32 L222.67,359.64 L223.46,359.99 L224.27,360.37 L225.08,360.77 L225.92,361.2 L226.78,361.65 L227.65,362.12 L228.76,362.7 L229.92,363.19 L230.84,363.58 L231.77,363.96 L232.7,364.35 L233.62,364.74 L234.55,365.12 L235.48,365.51 L236.41,365.9 L237.33,366.29 L238.26,366.67 L239.19,367.06 L240.12,367.45 L241.04,367.83 L241.97,368.22 L242.9,368.61 L243.82,368.99 L244.75,369.38 L245.68,369.77 L246.61,370.15 L247.53,370.54 L248.46,370.93 L249.39,371.32 L250.32,371.7 L251.24,372.09 L252.17,372.48 L253.1,372.86 L254.02,373.25 L254.95,373.64 L255.88,374.02 L256.81,374.41 L257.71,374.79 L258.66,375.19 L259.72,375.62 L260.8,376.02 L261.89,376.39 L262.99,376.73 L264.09,377.04 L265.19,377.32 L266.3,377.57 L267.42,377.79 L268.55,377.99 L269.68,378.15 L270.81,378.28 L271.95,378.39 L273.09,378.47 L274.23,378.52 L275.38,378.53 L276.53,378.52 L277.69,378.47 L278.85,378.39 L280.01,378.27 L281.17,378.11 L282.35,377.92 L283.51,377.68 L284.68,377.4 L285.84,377.07 L286.99,376.7 L288.14,376.28 L289.28,375.81 L290.41,375.27 L291.54,374.68 L292.63,374.02 L293.69,373.31 L294.72,372.55 L295.71,371.72 L296.63,370.86 L297.46,370.02 L298.23,369.2 L298.98,368.36 L299.72,367.51 L300.43,366.64 L301.14,365.74 L301.81,364.83 L302.47,363.9 L303.1,362.94 L303.71,361.97 L304.29,360.98 L304.85,359.97 L305.38,358.94 L305.88,357.9 L306.35,356.85 L306.8,355.78 L307.21,354.69 L307.59,353.6 L307.93,352.5 L308.25,351.39 L308.53,350.27 L308.78,349.14 L309,348.01 L309.19,346.88 L309.35,345.74 L309.47,344.61 L309.57,343.48 L309.64,342.34 L309.68,341.22 L309.7,340.12 L309.7,339.07 L309.7,338.07 L309.7,337.06 L309.7,336.06 L309.7,335.05 L309.7,334.05 L309.7,333.04 L309.7,332.04 L309.7,331.03 L309.7,330.03 L309.7,329.02 L309.7,328.02 L309.7,327.01 L309.7,326.01 L309.7,325 L309.7,324 L299.1,324 L299.1,325 L299.1,326.01 L299.1,327.01 L299.1,328.02 L299.1,329.02 L299.1,330.03 L299.1,331.03 L299.1,332.04 L299.1,333.04 L299.1,334.05 L299.1,335.05 L299.1,336.06 L299.1,337.06 L299.1,338.07 L299.1,339.07 L299.1,340.04 L299.09,340.95 L299.05,341.83 L299,342.7 L298.93,343.56 L298.83,344.43 L298.71,345.28 L298.57,346.13 L298.41,346.98 L298.22,347.81 L298.01,348.64 L297.78,349.46 L297.52,350.27 L297.24,351.08 L296.94,351.88 L296.62,352.66 L296.27,353.44 L295.9,354.21 L295.51,354.97 L295.09,355.72 L294.65,356.47 L294.2,357.19 L293.72,357.91 L293.22,358.63 L292.7,359.33 L292.16,360.01 L291.6,360.69 L291.03,361.36 L290.43,362.02 L289.83,362.67 L289.24,363.26 L288.7,363.77 L288.15,364.23 L287.57,364.66 L286.96,365.07 L286.33,365.44 L285.67,365.79 L284.99,366.11 L284.27,366.41 L283.54,366.68 L282.78,366.93 L282,367.14 L281.21,367.33 L280.41,367.5 L279.6,367.63 L278.78,367.74 L277.94,367.83 L277.09,367.89 L276.24,367.92 L275.39,367.93 L274.53,367.92 L273.66,367.88 L272.8,367.83 L271.93,367.74 L271.07,367.64 L270.21,367.52 L269.36,367.37 L268.5,367.2 L267.66,367.01 L266.81,366.8 L265.98,366.56 L265.15,366.31 L264.34,366.03 L263.54,365.74 L262.74,365.41 L261.84,365.03 L260.89,364.63 L259.96,364.24 L259.03,363.85 L258.11,363.47 L257.18,363.08 L256.25,362.69 L255.32,362.31 L254.4,361.92 L253.47,361.53 L252.54,361.15 L251.62,360.76 L250.69,360.37 L249.76,359.98 L248.83,359.6 L247.91,359.21 L246.98,358.82 L246.05,358.44 L245.12,358.05 L244.2,357.66 L243.27,357.28 L242.34,356.89 L241.42,356.5 L240.49,356.12 L239.56,355.73 L238.63,355.34 L237.71,354.96 L236.78,354.57 L235.85,354.18 L234.92,353.79 L234,353.41 L233.29,353.12 L232.63,352.76 L231.73,352.28 L230.81,351.8 L229.86,351.31 L228.88,350.82 L227.86,350.35 L226.81,349.88 L225.73,349.44 L224.62,349.03 L223.48,348.66 L222.32,348.32 L221.16,348.03 L219.99,347.79 L218.82,347.59 L217.66,347.42 L216.5,347.3 L215.36,347.21 L214.23,347.15 L213.11,347.11 L212.02,347.1 L210.99,347.1 L209.99,347.1 L208.98,347.1 L207.98,347.1 L206.97,347.1 L205.97,347.1 L204.96,347.1 L203.96,347.1 L202.95,347.1 L201.95,347.1 L200.94,347.1 L199.94,347.1 L198.93,347.1 L197.93,347.1 L196.92,347.1 L195.92,347.1 L194.91,347.1 L193.91,347.1 L192.9,347.1 L191.9,347.1Z" fill="#fff" stroke="#000" stroke-width="0" stroke-linecap="round" stroke-linejoin="round"/>
<path d="M191.9,357.7 L192.9,357.7 L193.91,357.7 L194.91,357.7 L195.92,357.7 L196.92,357.7 L197.93,357.7 L198.93,357.7 L199.94,357.7 L200.94,357.7 L201.95,357.7 L202.95,357.7 L203.96,357.7 L204.96,357.7 L205.97,357.7 L206.97,357.7 L207.98,357.7 L208.98,357.7 L209.99,357.7 L210.99,357.7 L211.97,357.7 L212.89,357.71 L213.78,357.74 L214.65,357.78 L215.51,357.85 L216.36,357.94 L217.18,358.06 L217.99,358.2 L218.79,358.37 L219.58,358.56 L220.35,358.79 L221.12,359.04 L221.89,359.32 L222.67,359.64 L223.46,359.99 L224.27,360.37 L225.08,360.77 L225.92,361.2 L226.78,361.65 L227.65,362.12 L228.76,362.7 L229.92,363.19 L230.84,363.58 L231.77,363.96 L232.7,364.35 L233.62,364.74 L234.55,365.12 L235.48,365.51 L236.41,365.9 L237.33,366.29 L238.26,366.67 L239.19,367.06 L240.12,367.45 L241.04,367.83 L241.97,368.22 L242.9,368.61 L243.82,368.99 L244.75,369.38 L245.68,369.77 L246.61,370.15 L247.53,370.54 L248.46,370.93 L249.39,371.32 L250.32,371.7 L251.24,372.09 L252.17,372.48 L253.1,372.86 L254.02,373.25 L254.95,373.64 L255.88,374.02 L256.81,374.41 L257.71,374.79 L258.66,375.19 L259.72,375.62 L260.8,376.02 L261.89,376.39 L262.99,376.73 L264.09,377.04 L265.19,377.32 L266.3,377.57 L267.42,377.79 L268.55,377.99 L269.68,378.15 L270.81,378.28 L271.95,378.39 L273.09,378.47 L274.23,378.52 L275.38,378.53 L276.53,378.52 L277.69,378.47 L278.85,378.39 L280.01,378.27 L281.17,378.11 L282.35,377.92 L283.51,377.68 L284.68,377.4 L285.84,377.07 L286.99,376.7 L288.14,376.28 L289.28,375.81 L290.41,375.27 L291.54,374.68 L292.63,374.02 L293.69,373.31 L294.72,372.55 L295.71,371.72 L296.63,370.86 L297.46,370.02 L298.23,369.2 L298.98,368.36 L299.72,367.51 L300.43,366.64 L301.14,365.74 L301.81,364.83 L302.47,363.9 L303.1,362.94 L303.71,361.97 L304.29,360.98 L304.85,359.97 L305.38,358.94 L305.88,357.9 L306.35,356.85 L306.8,355.78 L307.21,354.69 L307.59,353.6 L307.93,352.5 L308.25,351.39 L308.53,350.27 L308.78,349.14 L309,348.01 L309.19,346.88 L309.35,345.74 L309.47,344.61 L309.57,343.48 L309.64,342.34 L309.68,341.22 L309.7,340.12 L309.7,339.07 L309.7,338.07 L309.7,337.06 L309.7,336.06 L309.7,335.05 L309.7,334.05 L309.7,333.04 L309.7,332.04 L309.7,331.03 L309.7,330.03 L309.7,329.02 L309.7,328.02 L309.7,327.01 L309.7,326.01 L309.7,325 L309.7,324" fill="none" stroke="#000" stroke-width="1.7" stroke-linecap="round" stroke-linejoin="round"/>
<path d="M191.9,347.1 L192.9,347.1 L193.91,347.1 L194.91,347.1 L195.92,347.1 L196.92,347.1 L197.93,347.1 L198.93,347.1 L199.94,347.1 L200.94,347.1 L201.95,347.1 L202.95,347.1 L203.96,347.1 L204.96,347.1 L205.97,347.1 L206.97,347.1 L207.98,347.1 L208.98,347.1 L209.99,347.1 L210.99,347.1 L212.02,347.1 L213.11,347.11 L214.23,347.15 L215.36,347.21 L216.5,347.3 L217.66,347.42 L218.82,347.59 L219.99,347.79 L221.16,348.03 L222.32,348.32 L223.48,348.66 L224.62,349.03 L225.73,349.44 L226.81,349.88 L227.86,350.35 L228.88,350.82 L229.86,351.31 L230.81,351.8 L231.73,352.28 L232.63,352.76 L233.29,353.12 L234,353.41 L234.92,353.79 L235.85,354.18 L236.78,354.57 L237.71,354.96 L238.63,355.34 L239.56,355.73 L240.49,356.12 L241.42,356.5 L242.34,356.89 L243.27,357.28 L244.2,357.66 L245.12,358.05 L246.05,358.44 L246.98,358.82 L247.91,359.21 L248.83,359.6 L249.76,359.98 L250.69,360.37 L251.62,360.76 L252.54,361.15 L253.47,361.53 L254.4,361.92 L255.32,362.31 L256.25,362.69 L257.18,363.08 L258.11,363.47 L259.03,363.85 L259.96,364.24 L260.89,364.63 L261.84,365.03 L262.74,365.41 L263.54,365.74 L264.34,366.03 L265.15,366.31 L265.98,366.56 L266.81,366.8 L267.66,367.01 L268.5,367.2 L269.36,367.37 L270.21,367.52 L271.07,367.64 L271.93,367.74 L272.8,367.83 L273.66,367.88 L274.53,367.92 L275.39,367.93 L276.24,367.92 L277.09,367.89 L277.94,367.83 L278.78,367.74 L279.6,367.63 L280.41,367.5 L281.21,367.33 L282,367.14 L282.78,366.93 L283.54,366.68 L284.27,366.41 L284.99,366.11 L285.67,365.79 L286.33,365.44 L286.96,365.07 L287.57,364.66 L288.15,364.23 L288.7,363.77 L289.24,363.26 L289.83,362.67 L290.43,362.02 L291.03,361.36 L291.6,360.69 L292.16,360.01 L292.7,359.33 L293.22,358.63 L293.72,357.91 L294.2,357.19 L294.65,356.47 L295.09,355.72 L295.51,354.97 L295.9,354.21 L296.27,353.44 L296.62,352.66 L296.94,351.88 L297.24,351.08 L297.52,350.27 L297.78,349.46 L298.01,348.64 L298.22,347.81 L298.41,346.98 L298.57,346.13 L298.71,345.28 L298.83,344.43 L298.93,343.56 L299,342.7 L299.05,341.83 L299.09,340.95 L299.1,340.04 L299.1,339.07 L299.1,338.07 L299.1,337.06 L299.1,336.06 L299.1,335.05 L299.1,334.05 L299.1,333.04 L299.1,332.04 L299.1,331.03 L299.1,330.03 L299.1,329.02 L299.1,328.02 L299.1,327.01 L299.1,326.01 L299.1,325 L299.1,324" fill="none" stroke="#000" stroke-width="1.7" stroke-linecap="round" stroke-linejoin="round"/>
<path d="M191.9,352.4 L192.9,352.4 L193.91,352.4 L194.91,352.4 L195.92,352.4 L196.92,352.4 L197.93,352.4 L198.93,352.4 L199.94,352.4 L200.94,352.4 L201.95,352.4 L202.95,352.4 L203.96,352.4 L204.96,352.4 L205.97,352.4 L206.97,352.4 L207.98,352.4 L208.98,352.4 L209.99,352.4 L210.99,352.4 L211.99,352.4 L213,352.41 L214,352.44 L215.01,352.5 L216.01,352.58 L217.01,352.68 L218,352.82 L218.99,352.99 L219.98,353.2 L220.95,353.44 L221.92,353.72 L222.87,354.03 L223.81,354.38 L224.74,354.76 L225.66,355.17 L226.57,355.6 L227.47,356.04 L228.37,356.5 L229.25,356.97 L230.14,357.44 L231.03,357.91 L231.96,358.3 L232.88,358.69 L233.81,359.07 L234.74,359.46 L235.67,359.85 L236.59,360.23 L237.52,360.62 L238.45,361.01 L239.37,361.39 L240.3,361.78 L241.23,362.17 L242.16,362.55 L243.08,362.94 L244.01,363.33 L244.94,363.72 L245.87,364.1 L246.79,364.49 L247.72,364.88 L248.65,365.26 L249.57,365.65 L250.5,366.04 L251.43,366.42 L252.36,366.81 L253.28,367.2 L254.21,367.58 L255.14,367.97 L256.07,368.36 L256.99,368.75 L257.92,369.13 L258.85,369.52 L259.77,369.91 L260.7,370.3 L261.63,370.68 L262.57,371.03 L263.52,371.35 L264.48,371.65 L265.45,371.92 L266.42,372.16 L267.4,372.38 L268.39,372.58 L269.38,372.75 L270.37,372.9 L271.37,373.01 L272.37,373.11 L273.37,373.18 L274.38,373.22 L275.38,373.23 L276.39,373.22 L277.39,373.18 L278.39,373.11 L279.39,373.01 L280.39,372.87 L281.38,372.71 L282.36,372.51 L283.34,372.27 L284.31,372 L285.26,371.69 L286.21,371.35 L287.13,370.96 L288.04,370.53 L288.93,370.06 L289.79,369.54 L290.63,368.99 L291.43,368.39 L292.2,367.74 L292.94,367.06 L293.64,366.34 L294.33,365.61 L295,364.86 L295.66,364.1 L296.3,363.33 L296.92,362.53 L297.51,361.73 L298.09,360.9 L298.65,360.07 L299.18,359.22 L299.69,358.35 L300.18,357.47 L300.64,356.58 L301.08,355.67 L301.49,354.76 L301.87,353.83 L302.22,352.89 L302.55,351.94 L302.86,350.98 L303.13,350.01 L303.38,349.04 L303.59,348.06 L303.79,347.07 L303.95,346.08 L304.09,345.09 L304.2,344.09 L304.29,343.09 L304.35,342.08 L304.38,341.08 L304.4,340.08 L304.4,339.07 L304.4,338.07 L304.4,337.06 L304.4,336.06 L304.4,335.05 L304.4,334.05 L304.4,333.04 L304.4,332.04 L304.4,331.03 L304.4,330.03 L304.4,329.02 L304.4,328.02 L304.4,327.01 L304.4,326.01 L304.4,325 L304.4,324" fill="none" stroke="#333" stroke-width="0.7" stroke-linecap="round" stroke-linejoin="round" stroke-dasharray="6,2,1.5,2"/>
<line x1="299.3" y1="339" x2="309.9" y2="339" stroke="#000" stroke-width="1.4" stroke-linecap="butt"/>
<path d="M319.7,324 L319.7,325 L319.7,326 L319.7,327 L319.7,328 L319.7,329 L319.7,330 L319.7,331.01 L319.7,332.01 L319.7,333.01 L319.7,334.01 L319.7,335.01 L319.7,336.01 L319.7,337.01 L319.7,338.01 L319.7,339.06 L319.72,340.18 L319.77,341.34 L319.86,342.49 L319.99,343.66 L320.15,344.82 L320.36,345.99 L320.61,347.17 L320.9,348.33 L321.24,349.48 L321.63,350.63 L322.06,351.76 L322.54,352.88 L323.07,353.98 L323.64,355.06 L324.26,356.12 L324.93,357.16 L325.65,358.16 L326.41,359.13 L327.21,360.08 L328.05,360.98 L328.93,361.84 L329.84,362.66 L330.77,363.43 L331.74,364.17 L332.72,364.86 L333.73,365.52 L334.76,366.13 L335.81,366.71 L336.88,367.24 L337.95,367.72 L339.02,368.17 L340.1,368.59 L341.21,368.97 L342.32,369.32 L343.42,369.63 L344.51,369.91 L345.62,370.17 L346.75,370.39 L347.84,370.58 L348.94,370.75 L350.06,370.9 L351.16,371.02 L352.25,371.11 L353.37,371.19 L354.46,371.24 L355.55,371.28 L356.63,371.3 L357.66,371.3 L358.68,371.3 L359.68,371.3 L360.68,371.3 L361.68,371.3 L362.68,371.3 L363.68,371.3 L364.68,371.3 L365.68,371.3 L366.68,371.3 L367.68,371.3 L368.68,371.3 L369.68,371.3 L370.69,371.3 L371.69,371.3 L372.69,371.3 L373.69,371.3 L374.69,371.3 L375.69,371.3 L376.69,371.3 L377.69,371.3 L378.69,371.3 L379.69,371.3 L380.69,371.3 L381.69,371.3 L382.69,371.3 L383.7,371.3 L384.7,371.3 L385.7,371.3 L386.7,371.3 L387.7,371.3 L388.7,371.3 L389.7,371.3 L390.7,371.3 L391.7,371.3 L392.7,371.3 L393.7,371.3 L394.7,371.3 L395.7,371.3 L396.7,371.3 L397.71,371.3 L398.71,371.3 L399.71,371.3 L400.71,371.3 L401.71,371.3 L402.71,371.3 L403.71,371.3 L404.71,371.3 L405.71,371.3 L406.71,371.3 L407.71,371.3 L408.71,371.3 L409.71,371.3 L410.72,371.3 L411.72,371.3 L412.72,371.3 L413.72,371.3 L414.72,371.3 L415.72,371.3 L416.72,371.3 L417.75,371.3 L418.88,371.29 L420.08,371.23 L421.31,371.12 L422.54,370.95 L423.77,370.73 L425,370.44 L426.25,370.08 L427.49,369.64 L428.69,369.13 L429.89,368.54 L431.06,367.87 L432.17,367.13 L433.25,366.3 L434.27,365.4 L435.22,364.45 L436.1,363.43 L436.91,362.38 L437.66,361.28 L438.32,360.14 L438.91,359 L439.44,357.82 L439.89,356.63 L440.28,355.46 L440.62,354.27 L440.9,353.06 L441.12,351.87 L441.3,350.69 L441.43,349.51 L441.53,348.34 L441.58,347.17 L441.6,346.05 L441.6,345 L441.6,344 L441.6,343 L441.6,342 L441.6,341 L441.6,340 L431,340 L431,341 L431,342 L431,343 L431,344 L431,345 L431,345.96 L430.99,346.84 L430.95,347.67 L430.88,348.49 L430.79,349.3 L430.67,350.1 L430.53,350.88 L430.35,351.62 L430.14,352.36 L429.91,353.08 L429.65,353.76 L429.36,354.41 L429.03,355.05 L428.68,355.64 L428.31,356.19 L427.9,356.73 L427.47,357.22 L427.01,357.68 L426.52,358.11 L426.01,358.5 L425.46,358.87 L424.89,359.19 L424.3,359.49 L423.65,359.76 L423.01,359.99 L422.33,360.18 L421.61,360.35 L420.87,360.48 L420.13,360.59 L419.37,360.65 L418.57,360.69 L417.69,360.7 L416.72,360.7 L415.72,360.7 L414.72,360.7 L413.72,360.7 L412.72,360.7 L411.72,360.7 L410.72,360.7 L409.71,360.7 L408.71,360.7 L407.71,360.7 L406.71,360.7 L405.71,360.7 L404.71,360.7 L403.71,360.7 L402.71,360.7 L401.71,360.7 L400.71,360.7 L399.71,360.7 L398.71,360.7 L397.71,360.7 L396.7,360.7 L395.7,360.7 L394.7,360.7 L393.7,360.7 L392.7,360.7 L391.7,360.7 L390.7,360.7 L389.7,360.7 L388.7,360.7 L387.7,360.7 L386.7,360.7 L385.7,360.7 L384.7,360.7 L383.7,360.7 L382.69,360.7 L381.69,360.7 L380.69,360.7 L379.69,360.7 L378.69,360.7 L377.69,360.7 L376.69,360.7 L375.69,360.7 L374.69,360.7 L373.69,360.7 L372.69,360.7 L371.69,360.7 L370.69,360.7 L369.68,360.7 L368.68,360.7 L367.68,360.7 L366.68,360.7 L365.68,360.7 L364.68,360.7 L363.68,360.7 L362.68,360.7 L361.68,360.7 L360.68,360.7 L359.68,360.7 L358.68,360.7 L357.69,360.7 L356.72,360.7 L355.8,360.68 L354.89,360.65 L353.98,360.61 L353.1,360.55 L352.2,360.47 L351.31,360.37 L350.44,360.26 L349.57,360.12 L348.69,359.97 L347.85,359.8 L347.02,359.61 L346.17,359.39 L345.33,359.16 L344.54,358.91 L343.76,358.64 L342.97,358.33 L342.19,358.01 L341.44,357.67 L340.71,357.31 L340.02,356.93 L339.33,356.51 L338.65,356.08 L338,355.62 L337.37,355.14 L336.77,354.64 L336.19,354.12 L335.64,353.58 L335.11,353.02 L334.62,352.44 L334.15,351.83 L333.7,351.21 L333.29,350.56 L332.89,349.89 L332.53,349.21 L332.19,348.5 L331.89,347.78 L331.6,347.05 L331.35,346.29 L331.12,345.53 L330.93,344.75 L330.76,343.97 L330.62,343.17 L330.51,342.35 L330.42,341.52 L330.35,340.69 L330.32,339.84 L330.3,338.96 L330.3,338.01 L330.3,337.01 L330.3,336.01 L330.3,335.01 L330.3,334.01 L330.3,333.01 L330.3,332.01 L330.3,331.01 L330.3,330 L330.3,329 L330.3,328 L330.3,327 L330.3,326 L330.3,325 L330.3,324Z" fill="#fff" stroke="#000" stroke-width="0" stroke-linecap="round" stroke-linejoin="round"/>
<path d="M319.7,324 L319.7,325 L319.7,326 L319.7,327 L319.7,328 L319.7,329 L319.7,330 L319.7,331.01 L319.7,332.01 L319.7,333.01 L319.7,334.01 L319.7,335.01 L319.7,336.01 L319.7,337.01 L319.7,338.01 L319.7,339.06 L319.72,340.18 L319.77,341.34 L319.86,342.49 L319.99,343.66 L320.15,344.82 L320.36,345.99 L320.61,347.17 L320.9,348.33 L321.24,349.48 L321.63,350.63 L322.06,351.76 L322.54,352.88 L323.07,353.98 L323.64,355.06 L324.26,356.12 L324.93,357.16 L325.65,358.16 L326.41,359.13 L327.21,360.08 L328.05,360.98 L328.93,361.84 L329.84,362.66 L330.77,363.43 L331.74,364.17 L332.72,364.86 L333.73,365.52 L334.76,366.13 L335.81,366.71 L336.88,367.24 L337.95,367.72 L339.02,368.17 L340.1,368.59 L341.21,368.97 L342.32,369.32 L343.42,369.63 L344.51,369.91 L345.62,370.17 L346.75,370.39 L347.84,370.58 L348.94,370.75 L350.06,370.9 L351.16,371.02 L352.25,371.11 L353.37,371.19 L354.46,371.24 L355.55,371.28 L356.63,371.3 L357.66,371.3 L358.68,371.3 L359.68,371.3 L360.68,371.3 L361.68,371.3 L362.68,371.3 L363.68,371.3 L364.68,371.3 L365.68,371.3 L366.68,371.3 L367.68,371.3 L368.68,371.3 L369.68,371.3 L370.69,371.3 L371.69,371.3 L372.69,371.3 L373.69,371.3 L374.69,371.3 L375.69,371.3 L376.69,371.3 L377.69,371.3 L378.69,371.3 L379.69,371.3 L380.69,371.3 L381.69,371.3 L382.69,371.3 L383.7,371.3 L384.7,371.3 L385.7,371.3 L386.7,371.3 L387.7,371.3 L388.7,371.3 L389.7,371.3 L390.7,371.3 L391.7,371.3 L392.7,371.3 L393.7,371.3 L394.7,371.3 L395.7,371.3 L396.7,371.3 L397.71,371.3 L398.71,371.3 L399.71,371.3 L400.71,371.3 L401.71,371.3 L402.71,371.3 L403.71,371.3 L404.71,371.3 L405.71,371.3 L406.71,371.3 L407.71,371.3 L408.71,371.3 L409.71,371.3 L410.72,371.3 L411.72,371.3 L412.72,371.3 L413.72,371.3 L414.72,371.3 L415.72,371.3 L416.72,371.3 L417.75,371.3 L418.88,371.29 L420.08,371.23 L421.31,371.12 L422.54,370.95 L423.77,370.73 L425,370.44 L426.25,370.08 L427.49,369.64 L428.69,369.13 L429.89,368.54 L431.06,367.87 L432.17,367.13 L433.25,366.3 L434.27,365.4 L435.22,364.45 L436.1,363.43 L436.91,362.38 L437.66,361.28 L438.32,360.14 L438.91,359 L439.44,357.82 L439.89,356.63 L440.28,355.46 L440.62,354.27 L440.9,353.06 L441.12,351.87 L441.3,350.69 L441.43,349.51 L441.53,348.34 L441.58,347.17 L441.6,346.05 L441.6,345 L441.6,344 L441.6,343 L441.6,342 L441.6,341 L441.6,340" fill="none" stroke="#000" stroke-width="1.7" stroke-linecap="round" stroke-linejoin="round"/>
<path d="M330.3,324 L330.3,325 L330.3,326 L330.3,327 L330.3,328 L330.3,329 L330.3,330 L330.3,331.01 L330.3,332.01 L330.3,333.01 L330.3,334.01 L330.3,335.01 L330.3,336.01 L330.3,337.01 L330.3,338.01 L330.3,338.96 L330.32,339.84 L330.35,340.69 L330.42,341.52 L330.51,342.35 L330.62,343.17 L330.76,343.97 L330.93,344.75 L331.12,345.53 L331.35,346.29 L331.6,347.05 L331.89,347.78 L332.19,348.5 L332.53,349.21 L332.89,349.89 L333.29,350.56 L333.7,351.21 L334.15,351.83 L334.62,352.44 L335.11,353.02 L335.64,353.58 L336.19,354.12 L336.77,354.64 L337.37,355.14 L338,355.62 L338.65,356.08 L339.33,356.51 L340.02,356.93 L340.71,357.31 L341.44,357.67 L342.19,358.01 L342.97,358.33 L343.76,358.64 L344.54,358.91 L345.33,359.16 L346.17,359.39 L347.02,359.61 L347.85,359.8 L348.69,359.97 L349.57,360.12 L350.44,360.26 L351.31,360.37 L352.2,360.47 L353.1,360.55 L353.98,360.61 L354.89,360.65 L355.8,360.68 L356.72,360.7 L357.69,360.7 L358.68,360.7 L359.68,360.7 L360.68,360.7 L361.68,360.7 L362.68,360.7 L363.68,360.7 L364.68,360.7 L365.68,360.7 L366.68,360.7 L367.68,360.7 L368.68,360.7 L369.68,360.7 L370.69,360.7 L371.69,360.7 L372.69,360.7 L373.69,360.7 L374.69,360.7 L375.69,360.7 L376.69,360.7 L377.69,360.7 L378.69,360.7 L379.69,360.7 L380.69,360.7 L381.69,360.7 L382.69,360.7 L383.7,360.7 L384.7,360.7 L385.7,360.7 L386.7,360.7 L387.7,360.7 L388.7,360.7 L389.7,360.7 L390.7,360.7 L391.7,360.7 L392.7,360.7 L393.7,360.7 L394.7,360.7 L395.7,360.7 L396.7,360.7 L397.71,360.7 L398.71,360.7 L399.71,360.7 L400.71,360.7 L401.71,360.7 L402.71,360.7 L403.71,360.7 L404.71,360.7 L405.71,360.7 L406.71,360.7 L407.71,360.7 L408.71,360.7 L409.71,360.7 L410.72,360.7 L411.72,360.7 L412.72,360.7 L413.72,360.7 L414.72,360.7 L415.72,360.7 L416.72,360.7 L417.69,360.7 L418.57,360.69 L419.37,360.65 L420.13,360.59 L420.87,360.48 L421.61,360.35 L422.33,360.18 L423.01,359.99 L423.65,359.76 L424.3,359.49 L424.89,359.19 L425.46,358.87 L426.01,358.5 L426.52,358.11 L427.01,357.68 L427.47,357.22 L427.9,356.73 L428.31,356.19 L428.68,355.64 L429.03,355.05 L429.36,354.41 L429.65,353.76 L429.91,353.08 L430.14,352.36 L430.35,351.62 L430.53,350.88 L430.67,350.1 L430.79,349.3 L430.88,348.49 L430.95,347.67 L430.99,346.84 L431,345.96 L431,345 L431,344 L431,343 L431,342 L431,341 L431,340" fill="none" stroke="#000" stroke-width="1.7" stroke-linecap="round" stroke-linejoin="round"/>
<path d="M325,324 L325,325 L325,326 L325,327 L325,328 L325,329 L325,330 L325,331.01 L325,332.01 L325,333.01 L325,334.01 L325,335.01 L325,336.01 L325,337.01 L325,338.01 L325,339.01 L325.02,340.01 L325.06,341.01 L325.14,342.01 L325.25,343 L325.39,344 L325.56,344.98 L325.77,345.96 L326.01,346.93 L326.3,347.89 L326.62,348.84 L326.97,349.77 L327.37,350.69 L327.8,351.59 L328.27,352.48 L328.78,353.34 L329.32,354.18 L329.9,355 L330.51,355.79 L331.16,356.55 L331.85,357.28 L332.56,357.98 L333.3,358.65 L334.07,359.29 L334.87,359.89 L335.69,360.47 L336.53,361.01 L337.39,361.53 L338.26,362.01 L339.16,362.45 L340.07,362.87 L340.99,363.25 L341.93,363.61 L342.87,363.94 L343.83,364.24 L344.79,364.51 L345.76,364.76 L346.74,364.99 L347.72,365.18 L348.7,365.35 L349.69,365.51 L350.68,365.64 L351.68,365.74 L352.68,365.83 L353.67,365.9 L354.67,365.95 L355.67,365.98 L356.67,366 L357.68,366 L358.68,366 L359.68,366 L360.68,366 L361.68,366 L362.68,366 L363.68,366 L364.68,366 L365.68,366 L366.68,366 L367.68,366 L368.68,366 L369.68,366 L370.69,366 L371.69,366 L372.69,366 L373.69,366 L374.69,366 L375.69,366 L376.69,366 L377.69,366 L378.69,366 L379.69,366 L380.69,366 L381.69,366 L382.69,366 L383.7,366 L384.7,366 L385.7,366 L386.7,366 L387.7,366 L388.7,366 L389.7,366 L390.7,366 L391.7,366 L392.7,366 L393.7,366 L394.7,366 L395.7,366 L396.7,366 L397.71,366 L398.71,366 L399.71,366 L400.71,366 L401.71,366 L402.71,366 L403.71,366 L404.71,366 L405.71,366 L406.71,366 L407.71,366 L408.71,366 L409.71,366 L410.72,366 L411.72,366 L412.72,366 L413.72,366 L414.72,366 L415.72,366 L416.72,366 L417.72,366 L418.72,365.99 L419.72,365.94 L420.72,365.85 L421.71,365.72 L422.69,365.54 L423.67,365.31 L424.63,365.03 L425.57,364.7 L426.49,364.31 L427.39,363.87 L428.26,363.37 L429.09,362.81 L429.89,362.21 L430.64,361.54 L431.34,360.84 L432,360.08 L432.61,359.29 L433.17,358.46 L433.67,357.59 L434.13,356.7 L434.54,355.79 L434.9,354.86 L435.21,353.91 L435.48,352.94 L435.71,351.97 L435.9,350.99 L436.04,350 L436.16,349 L436.24,348 L436.28,347.01 L436.3,346 L436.3,345 L436.3,344 L436.3,343 L436.3,342 L436.3,341 L436.3,340" fill="none" stroke="#333" stroke-width="0.7" stroke-linecap="round" stroke-linejoin="round" stroke-dasharray="6,2,1.5,2"/>
<line x1="319.7" y1="339" x2="330.3" y2="339" stroke="#000" stroke-width="1.4" stroke-linecap="butt"/>
<line x1="322.8" y1="406.4" x2="357.2" y2="472.4" stroke="#000" stroke-width="1.1" stroke-linecap="butt"/>
<line x1="357.2" y1="472.4" x2="555.4" y2="472.4" stroke="#000" stroke-width="1.1" stroke-linecap="butt"/>
<path d="M322.6,406.1 L328.45,413.2 L325.08,414.96Z" fill="#000"/>
<text transform="translate(366.3,420.3) scale(0.8,1)" font-family="Liberation Sans" font-size="12.3" font-weight="normal" text-anchor="start" fill="#000" stroke="#000" stroke-width="0.42" textLength="51.88" lengthAdjust="spacing">PŘIVOD</text>
<text transform="translate(417.5,420.3) scale(0.8,1)" font-family="Liberation Sans" font-size="12.3" font-weight="normal" text-anchor="start" fill="#000" stroke="#000" stroke-width="0.42" textLength="121.62" lengthAdjust="spacing">TEPLÁ/STUDENÁ</text>
<text transform="translate(366.3,434.7) scale(0.8,1)" font-family="Liberation Sans" font-size="12.3" font-weight="normal" text-anchor="start" fill="#000" stroke="#000" stroke-width="0.42" textLength="37.25" lengthAdjust="spacing">INLET</text>
<text transform="translate(405.8,434.7) scale(0.85,1)" font-family="Liberation Sans" font-size="12.3" font-weight="normal" text-anchor="start" fill="#000" stroke="#000" stroke-width="0.42" textLength="73.65" lengthAdjust="spacing">HOT/COLD</text>
<text transform="translate(366.3,450) scale(0.85,1)" font-family="Liberation Sans" font-size="12.3" font-weight="normal" text-anchor="start" fill="#000" stroke="#000" stroke-width="0.42" textLength="37.06" lengthAdjust="spacing">ВХОД</text>
<text transform="translate(404.7,450) scale(0.7,1)" font-family="Liberation Sans" font-size="12.3" font-weight="normal" text-anchor="start" fill="#000" stroke="#000" stroke-width="0.42" textLength="125.71" lengthAdjust="spacing">ТЁПЛАЯ/ХОЛОДНАЯ</text>
<text transform="translate(366.5,465.2)" font-family="Liberation Sans" font-size="12.3" font-weight="normal" text-anchor="start" fill="#000" stroke="#000" stroke-width="0.42" textLength="6.8" lengthAdjust="spacingAndGlyphs">3</text>
<line x1="374.3" y1="468.2" x2="381.8" y2="455.2" stroke="#000" stroke-width="1.5" stroke-linecap="round"/>
<text transform="translate(382.7,465.2)" font-family="Liberation Sans" font-size="12.3" font-weight="normal" text-anchor="start" fill="#000" stroke="#000" stroke-width="0.42" textLength="7" lengthAdjust="spacingAndGlyphs">8</text>
<line x1="391.8" y1="455.6" x2="391.2" y2="458.8" stroke="#000" stroke-width="1.4" stroke-linecap="round"/>
<line x1="394.4" y1="455.6" x2="393.8" y2="458.8" stroke="#000" stroke-width="1.4" stroke-linecap="round"/>
<line x1="404.3" y1="461.2" x2="412.5" y2="461.2" stroke="#000" stroke-width="1.5" stroke-linecap="butt"/>
<text transform="translate(421.7,465)" font-family="Liberation Sans" font-size="12.3" font-weight="normal" text-anchor="start" fill="#000" stroke="#000" stroke-width="0.42" textLength="37" lengthAdjust="spacing">xxx.0,</text>
<text transform="translate(466.6,465.2)" font-family="Liberation Sans" font-size="12.3" font-weight="normal" text-anchor="start" fill="#000" stroke="#000" stroke-width="0.42" textLength="6.2" lengthAdjust="spacingAndGlyphs">1</text>
<line x1="474.5" y1="468" x2="481.6" y2="455.3" stroke="#000" stroke-width="1.5" stroke-linecap="round"/>
<text transform="translate(482.5,465.2)" font-family="Liberation Sans" font-size="12.3" font-weight="normal" text-anchor="start" fill="#000" stroke="#000" stroke-width="0.42" textLength="7" lengthAdjust="spacingAndGlyphs">2</text>
<line x1="491.6" y1="455.6" x2="491" y2="458.8" stroke="#000" stroke-width="1.4" stroke-linecap="round"/>
<line x1="494.2" y1="455.6" x2="493.6" y2="458.8" stroke="#000" stroke-width="1.4" stroke-linecap="round"/>
<line x1="504.7" y1="461.2" x2="514" y2="461.2" stroke="#000" stroke-width="1.5" stroke-linecap="butt"/>
<text transform="translate(523.3,465)" font-family="Liberation Sans" font-size="12.3" font-weight="normal" text-anchor="start" fill="#000" stroke="#000" stroke-width="0.42" textLength="30.5" lengthAdjust="spacing">xxx.5</text>
<line x1="288" y1="237.8" x2="357" y2="237.8" stroke="#333" stroke-width="0.8" stroke-linecap="butt"/>
<line x1="353.7" y1="237.8" x2="353.7" y2="302.5" stroke="#666" stroke-width="1.0" stroke-linecap="butt"/>
<path d="M353.7,238 L355,244 L352.4,244Z" fill="#000"/>
<path d="M353.7,302.3 L352.4,296.3 L355,296.3Z" fill="#000"/>
<text transform="translate(351.5,268.2) rotate(-90)" font-family="Liberation Sans" font-size="8.2" font-weight="bold" text-anchor="middle" fill="#000" stroke="#000" stroke-width="0.3" textLength="7.7" lengthAdjust="spacingAndGlyphs">80</text>
<path d="M243.8,244.3 C260,239.5 275,237.8 288.2,237.8 C315,240 332,258 337.5,274.2 L314.5,279.8 L291,279.8 L291,263.5 C291,257 288,252.5 283,251.6 C270,249.8 255,248.8 243.8,247.9 Z" fill="#fff" stroke="#000" stroke-width="1.8" stroke-linecap="round" stroke-linejoin="round"/>
<path d="M283,251.6 C295,252 308,258 313.9,273.6 L314.5,279.8" fill="none" stroke="#000" stroke-width="1.6" stroke-linecap="round" stroke-linejoin="round"/>
<rect x="295.5" y="282.5" width="37.8" height="15.5" fill="#fff" stroke="#000" stroke-width="1.8"/>
<line x1="295.5" y1="282.5" x2="333.3" y2="282.5" stroke="#000" stroke-width="2.0" stroke-linecap="butt"/>
<path d="M330.5,276.4 L331.6,281.6" fill="none" stroke="#000" stroke-width="1.4" stroke-linecap="round" stroke-linejoin="round"/>
<line x1="314.4" y1="271" x2="314.4" y2="330" stroke="#333" stroke-width="0.6" stroke-linecap="butt" stroke-dasharray="6,2,1.5,2"/>
<rect x="291" y="298.2" width="46.7" height="4.1" rx="1.5" fill="#fff" stroke="#000" stroke-width="1.7"/>
<rect x="279.7" y="302.3" width="13.8" height="8.7" fill="url(#h)" stroke="#000" stroke-width="0"/>
<rect x="334.5" y="302.3" width="13.8" height="8.7" fill="url(#h)" stroke="#000" stroke-width="0"/>
<line x1="279.7" y1="302.3" x2="348.3" y2="302.3" stroke="#000" stroke-width="1.0" stroke-linecap="butt"/>
<line x1="279.7" y1="311" x2="348.3" y2="311" stroke="#000" stroke-width="1.0" stroke-linecap="butt"/>
<rect x="295" y="302.8" width="38.7" height="7.8" fill="#fff" stroke="#000" stroke-width="1.6"/>
<line x1="295" y1="307" x2="333.7" y2="307" stroke="#000" stroke-width="1.3" stroke-linecap="butt"/>
<line x1="252.8" y1="306.3" x2="295" y2="306.3" stroke="#333" stroke-width="0.8" stroke-linecap="butt"/>
<line x1="345.5" y1="302.7" x2="355.5" y2="302.7" stroke="#333" stroke-width="0.8" stroke-linecap="butt"/>
<text transform="translate(260.4,304.7)" font-family="Liberation Sans" font-size="8.8" font-weight="bold" text-anchor="middle" fill="#000" stroke="#000" stroke-width="0.2" textLength="11.5" lengthAdjust="spacingAndGlyphs">Ø49</text>
<rect x="288.6" y="311.4" width="50.9" height="4.2" rx="1.0" fill="#fff" stroke="#000" stroke-width="1.7"/>
<line x1="304.5" y1="311.4" x2="304.5" y2="315.6" stroke="#000" stroke-width="1.2" stroke-linecap="butt"/>
<line x1="324.5" y1="311.4" x2="324.5" y2="315.6" stroke="#000" stroke-width="1.2" stroke-linecap="butt"/>
<rect x="293.5" y="316.6" width="41.5" height="7.4" fill="#fff" stroke="#000" stroke-width="1.7"/>
<line x1="304.5" y1="317.5" x2="304.5" y2="323.5" stroke="#000" stroke-width="0.8" stroke-linecap="butt" stroke-dasharray="2.5,1.2"/>
<line x1="314.4" y1="317.5" x2="314.4" y2="323.5" stroke="#000" stroke-width="0.8" stroke-linecap="butt" stroke-dasharray="2.5,1.2"/>
<line x1="324.5" y1="317.5" x2="324.5" y2="323.5" stroke="#000" stroke-width="0.8" stroke-linecap="butt" stroke-dasharray="2.5,1.2"/>
<path d="M420.2,119.3 L573.1,119.3 C580,127 582.7,135 582.7,143.8 C582.7,152 580,161 573.1,168.6 L420.2,168.6 C414.5,161 411.8,152 411.8,143.8 C411.8,135 414.5,127 420.2,119.3 Z" fill="none" stroke="#000" stroke-width="1.9" stroke-linecap="round" stroke-linejoin="round"/>
<circle cx="431.2" cy="144.2" r="15.1" fill="none" stroke="#000" stroke-width="1.4" stroke-dasharray="7.8,4.06" stroke-dashoffset="7.86"/>
<line x1="393.4" y1="119.3" x2="420" y2="119.3" stroke="#333" stroke-width="0.8" stroke-linecap="butt"/>
<line x1="393.4" y1="168.6" x2="420" y2="168.6" stroke="#333" stroke-width="0.8" stroke-linecap="butt"/>
<line x1="395.2" y1="119.3" x2="395.2" y2="168.6" stroke="#333" stroke-width="0.8" stroke-linecap="butt"/>
<path d="M395.2,119.5 L396.5,125.5 L393.9,125.5Z" fill="#000"/>
<path d="M395.2,168.4 L393.9,162.4 L396.5,162.4Z" fill="#000"/>
<text transform="translate(393.3,146.7) rotate(-90)" font-family="Liberation Sans" font-size="7.5" font-weight="bold" text-anchor="middle" fill="#000" stroke="#000" stroke-width="0.3" textLength="7.5" lengthAdjust="spacingAndGlyphs">60</text>
<line x1="458.75" y1="105.7" x2="466" y2="105.7" stroke="#000" stroke-width="1.0" stroke-linecap="butt"/>
<path d="M472.5,105.7 L464.5,107.3 L464.5,104.1Z" fill="#000"/>
<path d="M477.6,111 L477.6,99 L480.8,99 C483,99 483.5,100.8 483.5,102.6 C483.5,104.6 482.6,106.2 480.6,106.2 L477.6,106.2" fill="none" stroke="#000" stroke-width="2.2" stroke-linecap="round" stroke-linejoin="round"/>
<line x1="389" y1="223.8" x2="476" y2="223.8" stroke="#333" stroke-width="0.8" stroke-linecap="butt"/>
<line x1="390" y1="223.8" x2="390" y2="300.9" stroke="#666" stroke-width="1.0" stroke-linecap="butt"/>
<line x1="388" y1="300.9" x2="401.3" y2="300.9" stroke="#333" stroke-width="0.8" stroke-linecap="butt"/>
<path d="M390,224 L391.3,230 L388.7,230Z" fill="#000"/>
<path d="M390,300.2 L388.7,294.2 L391.3,294.2Z" fill="#000"/>
<text transform="translate(387.8,261.3) rotate(-90)" font-family="Liberation Sans" font-size="8.2" font-weight="bold" text-anchor="middle" fill="#000" stroke="#000" stroke-width="0.3" textLength="7.7" lengthAdjust="spacingAndGlyphs">95</text>
<line x1="579" y1="244" x2="592" y2="244" stroke="#333" stroke-width="0.8" stroke-linecap="butt"/>
<line x1="588.2" y1="244" x2="588.2" y2="301.2" stroke="#666" stroke-width="1.0" stroke-linecap="butt"/>
<path d="M588.2,244.2 L589.5,250.2 L586.9,250.2Z" fill="#000"/>
<path d="M588.2,301 L586.9,295 L589.5,295Z" fill="#000"/>
<text transform="translate(584.8,276.2) rotate(-90)" font-family="Liberation Sans" font-size="8.2" font-weight="bold" text-anchor="middle" fill="#000" stroke="#000" stroke-width="0.3" textLength="7.7" lengthAdjust="spacingAndGlyphs">70</text>
<line x1="466" y1="301.2" x2="592" y2="301.2" stroke="#333" stroke-width="0.8" stroke-linecap="butt"/>
<line x1="552.25" y1="216.3" x2="552.25" y2="224" stroke="#000" stroke-width="1.0" stroke-linecap="butt"/>
<path d="M552.25,229.4 L550.85,222.4 L553.65,222.4Z" fill="#000"/>
<path d="M562.2,228.2 L562.2,218 L565.4,218 C567.6,218 568.2,219.6 568.2,221.2 C568.2,223 567.3,224.4 565.2,224.4 L562.2,224.4" fill="none" stroke="#000" stroke-width="2.1" stroke-linecap="round" stroke-linejoin="round"/>
<path d="M413.75,299.8 L413.25,298.59 L412.73,297.38 L412.19,296.17 L411.66,294.97 L411.12,293.76 L410.59,292.55 L410.08,291.34 L409.6,290.12 L409.16,288.89 L408.75,287.65 L408.4,286.4 L408.08,285.14 L407.77,283.88 L407.48,282.61 L407.22,281.34 L406.99,280.06 L406.79,278.77 L406.64,277.46 L406.54,276.15 L406.5,274.82 L406.51,273.47 L406.6,272.1 L406.75,270.7 L406.95,269.25 L407.21,267.76 L407.51,266.26 L407.87,264.75 L408.28,263.23 L408.74,261.73 L409.26,260.26 L409.82,258.82 L410.43,257.43 L411.1,256.1 L411.81,254.83 L412.57,253.59 L413.38,252.39 L414.24,251.22 L415.14,250.08 L416.11,248.96 L417.13,247.87 L418.2,246.78 L419.34,245.72 L420.54,244.66 L421.8,243.6 L423.14,242.54 L424.58,241.49 L426.09,240.43 L427.67,239.39 L429.3,238.37 L430.98,237.36 L432.69,236.39 L434.42,235.45 L436.15,234.55 L437.88,233.7 L439.6,232.9 L441.33,232.15 L443.12,231.44 L444.94,230.77 L446.79,230.13 L448.65,229.54 L450.51,228.97 L452.35,228.44 L454.16,227.94 L455.94,227.47 L457.65,227.02 L459.3,226.6 L460.84,226.21 L462.27,225.85 L463.62,225.52 L464.91,225.23 L466.18,224.96 L467.46,224.72 L468.77,224.51 L470.16,224.32 L471.63,224.16 L473.24,224.02 L475,223.9 L476.94,223.81 L479.05,223.75 L481.28,223.72 L483.62,223.71 L486.02,223.73 L488.45,223.78 L490.89,223.84 L493.29,223.91 L495.63,224 L497.88,224.1 L500,224.2 L501.96,224.3 L503.79,224.39 L505.51,224.49 L507.17,224.59 L508.8,224.71 L510.43,224.85 L512.11,225.03 L513.87,225.25 L515.75,225.52 L517.78,225.85 L520,226.25 L522.47,226.73 L525.17,227.3 L528.05,227.94 L531.06,228.63 L534.15,229.36 L537.26,230.12 L540.33,230.89 L543.32,231.65 L546.18,232.39 L548.84,233.09 L551.25,233.75 L553.45,234.37 L555.5,235 L557.43,235.61 L559.25,236.22 L560.97,236.82 L562.6,237.4 L564.17,237.96 L565.68,238.51 L567.14,239.03 L568.58,239.53 L570,240 L571.37,240.43 L572.65,240.83 L573.86,241.2 L575.01,241.55 L576.1,241.87 L577.17,242.19 L578.22,242.49 L579.26,242.79 L580.31,243.1 L581.39,243.42 L582.5,243.75" fill="none" stroke="#000" stroke-width="1.8" stroke-linecap="round" stroke-linejoin="round"/>
<path d="M420.9,297.1 L420.31,295.8 L419.69,294.47 L419.06,293.14 L418.42,291.79 L417.78,290.45 L417.15,289.12 L416.55,287.81 L415.99,286.53 L415.47,285.27 L415,284.06 L414.6,282.9 L414.26,281.8 L413.95,280.75 L413.69,279.76 L413.46,278.79 L413.27,277.86 L413.12,276.93 L413.01,276.01 L412.93,275.08 L412.89,274.12 L412.88,273.13 L412.9,272.1 L412.95,271.03 L413.02,269.93 L413.13,268.81 L413.26,267.68 L413.43,266.53 L413.64,265.38 L413.9,264.22 L414.21,263.06 L414.58,261.9 L415.01,260.74 L415.5,259.6 L416.05,258.46 L416.64,257.3 L417.28,256.14 L417.97,254.98 L418.71,253.82 L419.51,252.66 L420.38,251.51 L421.3,250.38 L422.3,249.26 L423.36,248.17 L424.5,247.1 L425.74,246.04 L427.08,244.97 L428.51,243.91 L430.02,242.85 L431.59,241.81 L433.21,240.8 L434.85,239.82 L436.51,238.88 L438.16,237.99 L439.8,237.16 L441.4,236.4 L443,235.71 L444.62,235.07 L446.27,234.49 L447.93,233.97 L449.59,233.48 L451.26,233.03 L452.91,232.61 L454.55,232.21 L456.17,231.83 L457.75,231.46 L459.3,231.1 L460.77,230.75 L462.16,230.42 L463.49,230.11 L464.78,229.83 L466.06,229.57 L467.36,229.33 L468.7,229.1 L470.11,228.9 L471.61,228.72 L473.23,228.55 L475,228.4 L476.94,228.27 L479.05,228.16 L481.28,228.08 L483.62,228.01 L486.02,227.96 L488.45,227.93 L490.89,227.92 L493.29,227.92 L495.63,227.93 L497.88,227.96 L500,228 L501.96,228.04 L503.79,228.06 L505.51,228.09 L507.17,228.12 L508.8,228.17 L510.43,228.25 L512.11,228.37 L513.87,228.53 L515.75,228.75 L517.78,229.04 L520,229.4 L522.47,229.86 L525.17,230.42 L528.05,231.06 L531.06,231.76 L534.15,232.5 L537.26,233.28 L540.33,234.06 L543.32,234.83 L546.18,235.57 L548.84,236.27 L551.25,236.9 L553.46,237.49 L555.53,238.08 L557.49,238.65 L559.34,239.21 L561.08,239.75 L562.74,240.27 L564.32,240.77 L565.82,241.25 L567.26,241.7 L568.65,242.11 L570,242.5 L571.26,242.84 L572.41,243.14 L573.46,243.41 L574.43,243.64 L575.33,243.85 L576.19,244.04 L577.03,244.22 L577.86,244.4 L578.7,244.59 L579.58,244.78 L580.5,245" fill="none" stroke="#000" stroke-width="1.3" stroke-linecap="round" stroke-linejoin="round"/>
<path d="M453.9,299.8 L452.91,298.59 L451.88,297.38 L450.84,296.17 L449.78,294.97 L448.73,293.76 L447.7,292.55 L446.69,291.34 L445.73,290.12 L444.82,288.89 L443.97,287.65 L443.2,286.4 L442.48,285.13 L441.79,283.83 L441.13,282.52 L440.5,281.19 L439.93,279.86 L439.41,278.53 L438.95,277.21 L438.56,275.89 L438.26,274.6 L438.03,273.34 L437.9,272.1 L437.85,270.89 L437.88,269.71 L437.98,268.54 L438.15,267.38 L438.39,266.25 L438.7,265.12 L439.09,264 L439.56,262.9 L440.1,261.79 L440.71,260.7 L441.4,259.6 L442.17,258.5 L443.01,257.39 L443.93,256.27 L444.92,255.16 L445.99,254.06 L447.13,252.98 L448.34,251.92 L449.63,250.88 L450.98,249.88 L452.41,248.92 L453.9,248 L455.49,247.12 L457.2,246.25 L459.02,245.4 L460.91,244.59 L462.88,243.8 L464.88,243.05 L466.92,242.34 L468.97,241.67 L471.01,241.06 L473.03,240.5 L475,240 L476.94,239.56 L478.89,239.17 L480.83,238.84 L482.78,238.55 L484.73,238.31 L486.69,238.11 L488.67,237.96 L490.65,237.84 L492.65,237.76 L494.66,237.71 L496.7,237.7 L498.75,237.73 L500.82,237.81 L502.89,237.94 L504.98,238.11 L507.09,238.32 L509.2,238.55 L511.33,238.82 L513.48,239.1 L515.64,239.39 L517.81,239.69 L520,240 L522.23,240.32 L524.51,240.66 L526.83,241.03 L529.18,241.41 L531.53,241.81 L533.88,242.23 L536.21,242.65 L538.5,243.09 L540.74,243.52 L542.91,243.96 L545,244.4 L547.01,244.84 L548.94,245.3 L550.82,245.76 L552.64,246.23 L554.43,246.71 L556.19,247.19 L557.94,247.68 L559.68,248.16 L561.43,248.64 L563.2,249.12 L565,249.6" fill="none" stroke="#000" stroke-width="1.8" stroke-linecap="round" stroke-linejoin="round"/>
<path d="M460.2,299.8 L459.02,298.59 L457.8,297.38 L456.55,296.17 L455.3,294.97 L454.04,293.76 L452.81,292.55 L451.62,291.34 L450.47,290.12 L449.4,288.89 L448.4,287.65 L447.5,286.4 L446.67,285.12 L445.89,283.82 L445.15,282.49 L444.46,281.15 L443.83,279.81 L443.27,278.47 L442.77,277.14 L442.35,275.83 L442.01,274.55 L441.76,273.3 L441.6,272.1 L441.53,270.94 L441.54,269.81 L441.64,268.71 L441.81,267.64 L442.06,266.58 L442.38,265.55 L442.78,264.52 L443.24,263.51 L443.76,262.51 L444.35,261.5 L445,260.5 L445.71,259.49 L446.48,258.48 L447.31,257.47 L448.21,256.47 L449.17,255.47 L450.21,254.49 L451.31,253.54 L452.5,252.6 L453.75,251.7 L455.09,250.83 L456.5,250 L458.03,249.2 L459.69,248.4 L461.46,247.63 L463.33,246.88 L465.25,246.16 L467.23,245.47 L469.23,244.82 L471.22,244.21 L473.2,243.66 L475.13,243.15 L477,242.7 L478.81,242.31 L480.58,241.98 L482.33,241.7 L484.07,241.47 L485.81,241.29 L487.55,241.14 L489.3,241.02 L491.09,240.93 L492.91,240.87 L494.78,240.83 L496.7,240.8 L498.68,240.79 L500.69,240.82 L502.75,240.87 L504.84,240.96 L506.95,241.07 L509.09,241.2 L511.25,241.36 L513.43,241.54 L515.61,241.74 L517.8,241.96 L520,242.2 L522.23,242.46 L524.51,242.76 L526.83,243.1 L529.18,243.45 L531.53,243.83 L533.88,244.22 L536.21,244.61 L538.5,245.02 L540.74,245.42 L542.91,245.82 L545,246.2 L547.01,246.58 L548.94,246.96 L550.82,247.35 L552.64,247.74 L554.43,248.13 L556.19,248.53 L557.94,248.92 L559.68,249.32 L561.43,249.71 L563.2,250.11 L565,250.5" fill="none" stroke="#000" stroke-width="1.2" stroke-linecap="round" stroke-linejoin="round"/>
<path d="M565,250 L583,243.8" fill="none" stroke="#000" stroke-width="1.6" stroke-linecap="round" stroke-linejoin="round"/>
<rect x="401.2" y="301.3" width="22.8" height="7.5" fill="url(#h2)" stroke="#000" stroke-width="0"/>
<rect x="448" y="301.3" width="20.9" height="7.5" fill="url(#h2)" stroke="#000" stroke-width="0"/>
<line x1="401.2" y1="301.3" x2="468.9" y2="301.3" stroke="#000" stroke-width="1.1" stroke-linecap="butt"/>
<line x1="401.2" y1="308.8" x2="468.9" y2="308.8" stroke="#000" stroke-width="1.5" stroke-linecap="butt"/>
<rect x="424" y="301.3" width="24" height="7.5" fill="#fff" stroke="#000" stroke-width="1.4"/>
<line x1="436" y1="301.3" x2="436" y2="308.8" stroke="#000" stroke-width="1.0" stroke-linecap="butt"/>
<line x1="414" y1="311.5" x2="491.5" y2="311.5" stroke="#333" stroke-width="0.8" stroke-linecap="butt"/>
<text transform="translate(484.4,309.3)" font-family="Liberation Sans" font-size="8.6" font-weight="bold" text-anchor="middle" fill="#000" stroke="#000" stroke-width="0.2" textLength="12" lengthAdjust="spacingAndGlyphs">Ø28</text>
<rect x="419.3" y="309.4" width="33.2" height="4.0" rx="1.8" fill="#111" stroke="#000" stroke-width="1.0"/>
<line x1="423" y1="312" x2="449" y2="312" stroke="#ccc" stroke-width="0.7" stroke-linecap="butt"/>
<rect x="423.8" y="313.2" width="25.1" height="6.6" fill="#fff" stroke="#000" stroke-width="1.8"/>
<line x1="430.4" y1="313.2" x2="430.4" y2="319.8" stroke="#000" stroke-width="1.2" stroke-linecap="butt"/>
<line x1="442.4" y1="313.2" x2="442.4" y2="319.8" stroke="#000" stroke-width="1.2" stroke-linecap="butt"/>
<rect x="425.2" y="320" width="21.6" height="10.2" fill="#fff" stroke="#000" stroke-width="1.8"/>
<rect x="424.5" y="330.3" width="23.7" height="10" fill="#fff" stroke="#000" stroke-width="1.8"/>
<line x1="430.3" y1="330.3" x2="430.3" y2="340.3" stroke="#000" stroke-width="1.2" stroke-linecap="butt"/>
<line x1="442.4" y1="330.3" x2="442.4" y2="340.3" stroke="#000" stroke-width="1.2" stroke-linecap="butt"/>
<line x1="436.5" y1="305" x2="436.5" y2="345" stroke="#333" stroke-width="0.6" stroke-linecap="butt" stroke-dasharray="6,2,1.5,2"/>
</svg></body></html>
